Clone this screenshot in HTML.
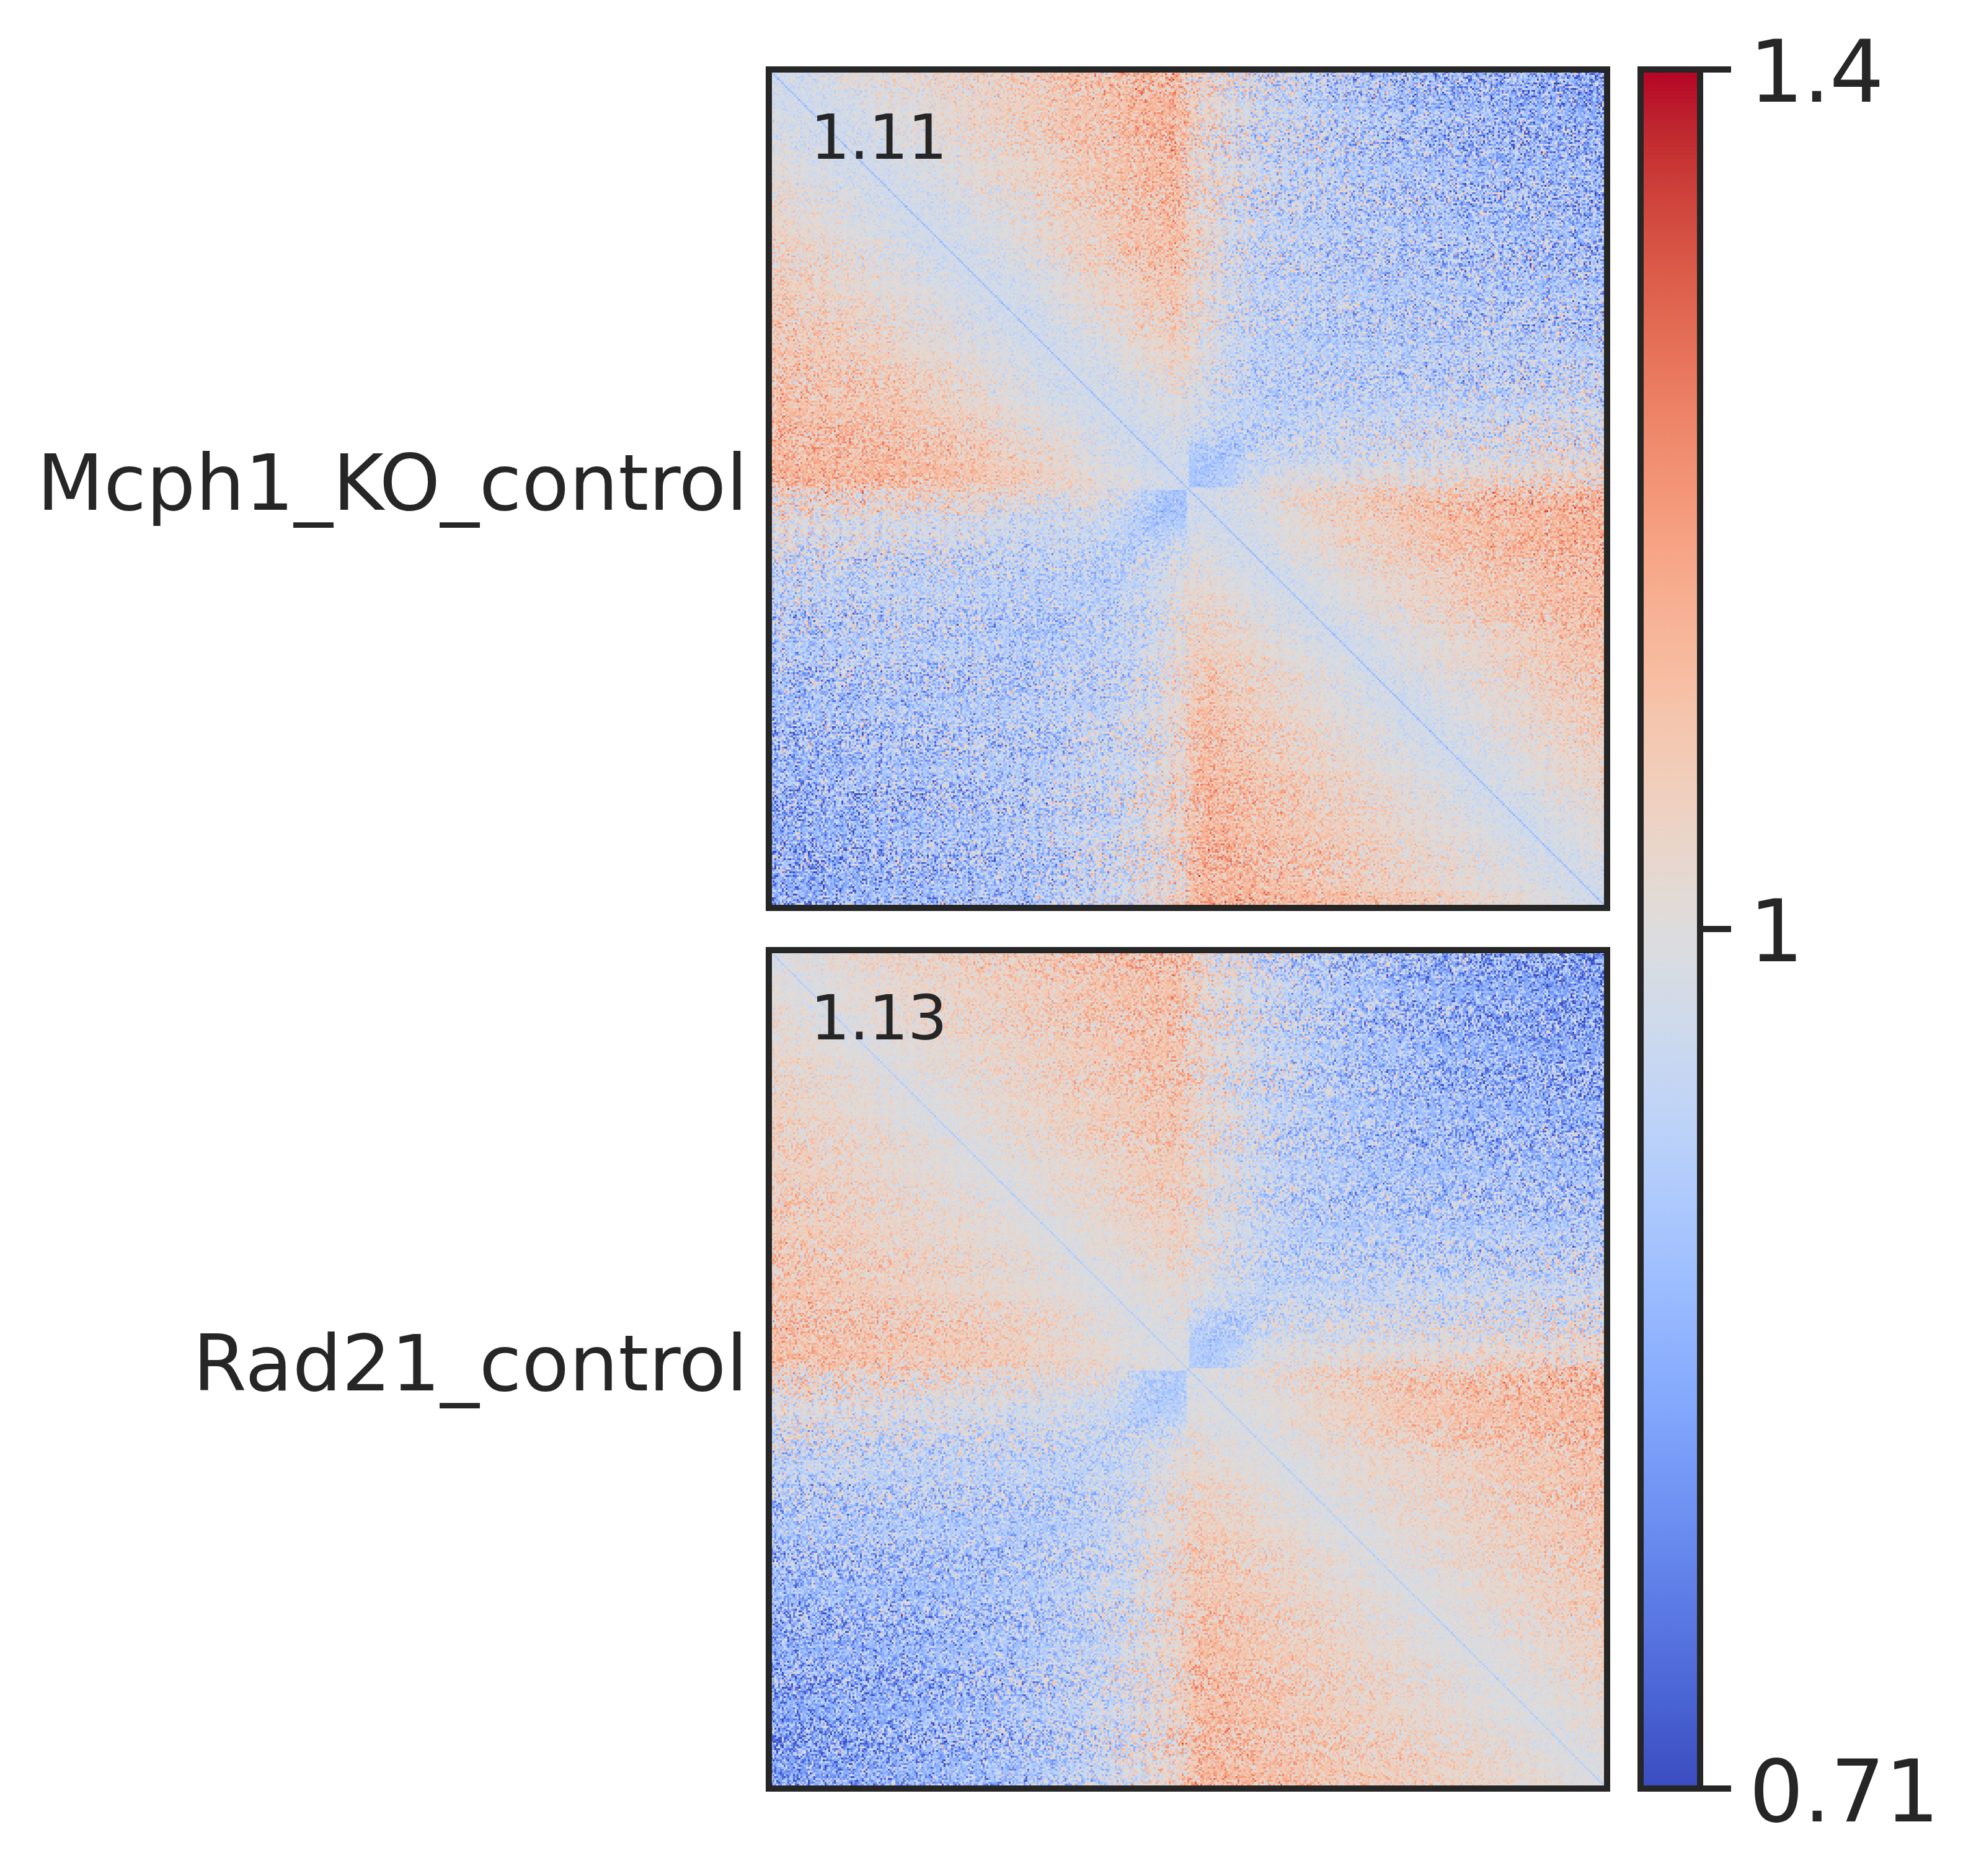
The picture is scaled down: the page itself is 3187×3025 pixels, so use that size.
<!DOCTYPE html>
<html lang="en"><head><meta charset="utf-8"><title>pileup</title>
<style>
html,body{margin:0;padding:0;background:#fff;overflow:hidden}
svg{display:block}
text{font-family:"DejaVu Sans","Liberation Sans",sans-serif;fill:#262626}
.tk{font-size:138.5px;letter-spacing:-1.2px}
.yl{font-size:125px;text-anchor:end}
.sc{font-size:100.6px;letter-spacing:-1px}
</style></head><body>
<svg width="3187" height="3025" viewBox="0 0 3187 3025">
<defs>
<linearGradient id="cb" x1="0" y1="0" x2="0" y2="1"><stop offset="0.00000" stop-color="#b40426"/><stop offset="0.03125" stop-color="#be242e"/><stop offset="0.06250" stop-color="#ca3b37"/><stop offset="0.09375" stop-color="#d44e41"/><stop offset="0.12500" stop-color="#dd5f4b"/><stop offset="0.15625" stop-color="#e46e56"/><stop offset="0.18750" stop-color="#eb7d62"/><stop offset="0.21875" stop-color="#f08b6e"/><stop offset="0.25000" stop-color="#f4987a"/><stop offset="0.28125" stop-color="#f6a586"/><stop offset="0.31250" stop-color="#f7b093"/><stop offset="0.34375" stop-color="#f7ba9f"/><stop offset="0.37500" stop-color="#f5c4ac"/><stop offset="0.40625" stop-color="#f1ccb8"/><stop offset="0.43750" stop-color="#ecd3c5"/><stop offset="0.46875" stop-color="#e5d8d1"/><stop offset="0.50000" stop-color="#dddcdc"/><stop offset="0.53125" stop-color="#d5dbe5"/><stop offset="0.56250" stop-color="#ccd9ed"/><stop offset="0.59375" stop-color="#c3d5f4"/><stop offset="0.62500" stop-color="#b9d0f9"/><stop offset="0.65625" stop-color="#aec9fc"/><stop offset="0.68750" stop-color="#a3c2fe"/><stop offset="0.71875" stop-color="#98b9ff"/><stop offset="0.75000" stop-color="#8db0fe"/><stop offset="0.78125" stop-color="#82a6fb"/><stop offset="0.81250" stop-color="#779af7"/><stop offset="0.84375" stop-color="#6c8ff1"/><stop offset="0.87500" stop-color="#6282ea"/><stop offset="0.90625" stop-color="#5875e1"/><stop offset="0.93750" stop-color="#4e68d8"/><stop offset="0.96875" stop-color="#445acc"/><stop offset="1.00000" stop-color="#3b4cc0"/></linearGradient>
<filter id="cm0" x="0" y="0" width="1" height="1" color-interpolation-filters="sRGB">
<feColorMatrix in="SourceGraphic" type="matrix" values="1 0 0 0 0 1 0 0 0 0 1 0 0 0 0 0 0 0 0 1" result="s"/>
<feColorMatrix in="SourceGraphic" type="matrix" values="0 1 0 0 0 0 1 0 0 0 0 1 0 0 0 0 0 0 0 1" result="a"/>
<feTurbulence type="fractalNoise" baseFrequency="0.713 0.677" numOctaves="2" seed="7" result="t"/>
<feColorMatrix in="t" type="matrix" values="1 0 0 0 0 1 0 0 0 0 1 0 0 0 0 0 0 0 0 1" result="t1"/>
<feFlood x="1" y="1" width="1" height="1" flood-color="#000" result="dot"/>
<feComposite in="dot" in2="dot" operator="over" x="0" y="0" width="3" height="3" result="cell"/>
<feTile in="cell" result="grid"/>
<feComposite in="t1" in2="grid" operator="in" result="pts"/>
<feMorphology in="pts" operator="dilate" radius="1" result="n"/>
<feComposite in="n" in2="a" operator="arithmetic" k1="0.6700" k2="0" k3="0" k4="0" result="na"/>
<feComposite in="s" in2="na" operator="arithmetic" k1="0" k2="1" k3="1" k4="0" result="v"/>
<feComponentTransfer in="v"><feFuncR type="table" tableValues="0.23 0.23 0.23 0.23 0.23 0.23 0.23 0.23 0.23 0.23 0.23 0.23 0.23 0.23 0.23 0.23 0.23 0.23 0.23 0.23 0.23 0.23 0.23 0.23 0.23 0.23 0.23 0.23 0.23 0.23 0.23 0.257 0.285 0.319 0.348 0.384 0.415 0.446 0.484 0.516 0.554 0.587 0.619 0.657 0.688 0.724 0.754 0.782 0.814 0.839 0.867 0.892 0.913 0.933 0.947 0.96 0.966 0.969 0.968 0.965 0.958 0.946 0.932 0.912 0.892 0.865 0.839 0.811 0.774 0.741 0.706 0.706 0.706 0.706 0.706 0.706 0.706 0.706 0.706 0.706 0.706 0.706 0.706 0.706 0.706 0.706 0.706 0.706 0.706 0.706 0.706 0.706 0.706 0.706 0.706 0.706 0.706 0.706 0.706 0.706 0.706"/><feFuncG type="table" tableValues="0.299 0.299 0.299 0.299 0.299 0.299 0.299 0.299 0.299 0.299 0.299 0.299 0.299 0.299 0.299 0.299 0.299 0.299 0.299 0.299 0.299 0.299 0.299 0.299 0.299 0.299 0.299 0.299 0.299 0.299 0.299 0.34 0.38 0.427 0.466 0.51 0.547 0.582 0.622 0.654 0.69 0.718 0.744 0.772 0.793 0.815 0.83 0.843 0.854 0.861 0.864 0.852 0.837 0.816 0.795 0.767 0.74 0.711 0.674 0.64 0.604 0.56 0.519 0.47 0.425 0.371 0.322 0.269 0.2 0.122 0.016 0.016 0.016 0.016 0.016 0.016 0.016 0.016 0.016 0.016 0.016 0.016 0.016 0.016 0.016 0.016 0.016 0.016 0.016 0.016 0.016 0.016 0.016 0.016 0.016 0.016 0.016 0.016 0.016 0.016 0.016"/><feFuncB type="table" tableValues="0.754 0.754 0.754 0.754 0.754 0.754 0.754 0.754 0.754 0.754 0.754 0.754 0.754 0.754 0.754 0.754 0.754 0.754 0.754 0.754 0.754 0.754 0.754 0.754 0.754 0.754 0.754 0.754 0.754 0.754 0.754 0.79 0.823 0.86 0.888 0.918 0.939 0.957 0.975 0.986 0.996 0.999 0.999 0.995 0.988 0.976 0.961 0.943 0.918 0.894 0.863 0.829 0.795 0.753 0.717 0.674 0.637 0.6 0.557 0.52 0.483 0.442 0.406 0.367 0.333 0.296 0.265 0.235 0.203 0.176 0.15 0.15 0.15 0.15 0.15 0.15 0.15 0.15 0.15 0.15 0.15 0.15 0.15 0.15 0.15 0.15 0.15 0.15 0.15 0.15 0.15 0.15 0.15 0.15 0.15 0.15 0.15 0.15 0.15 0.15 0.15"/></feComponentTransfer>
</filter>
<filter id="cm1" x="0" y="0" width="1" height="1" color-interpolation-filters="sRGB">
<feColorMatrix in="SourceGraphic" type="matrix" values="1 0 0 0 0 1 0 0 0 0 1 0 0 0 0 0 0 0 0 1" result="s"/>
<feColorMatrix in="SourceGraphic" type="matrix" values="0 1 0 0 0 0 1 0 0 0 0 1 0 0 0 0 0 0 0 1" result="a"/>
<feTurbulence type="fractalNoise" baseFrequency="0.713 0.677" numOctaves="2" seed="23" result="t"/>
<feColorMatrix in="t" type="matrix" values="1 0 0 0 0 1 0 0 0 0 1 0 0 0 0 0 0 0 0 1" result="t1"/>
<feFlood x="1" y="1" width="1" height="1" flood-color="#000" result="dot"/>
<feComposite in="dot" in2="dot" operator="over" x="0" y="0" width="3" height="3" result="cell"/>
<feTile in="cell" result="grid"/>
<feComposite in="t1" in2="grid" operator="in" result="pts"/>
<feMorphology in="pts" operator="dilate" radius="1" result="n"/>
<feComposite in="n" in2="a" operator="arithmetic" k1="0.6700" k2="0" k3="0" k4="0" result="na"/>
<feComposite in="s" in2="na" operator="arithmetic" k1="0" k2="1" k3="1" k4="0" result="v"/>
<feComponentTransfer in="v"><feFuncR type="table" tableValues="0.23 0.23 0.23 0.23 0.23 0.23 0.23 0.23 0.23 0.23 0.23 0.23 0.23 0.23 0.23 0.23 0.23 0.23 0.23 0.23 0.23 0.23 0.23 0.23 0.23 0.23 0.23 0.23 0.23 0.23 0.23 0.257 0.285 0.319 0.348 0.384 0.415 0.446 0.484 0.516 0.554 0.587 0.619 0.657 0.688 0.724 0.754 0.782 0.814 0.839 0.867 0.892 0.913 0.933 0.947 0.96 0.966 0.969 0.968 0.965 0.958 0.946 0.932 0.912 0.892 0.865 0.839 0.811 0.774 0.741 0.706 0.706 0.706 0.706 0.706 0.706 0.706 0.706 0.706 0.706 0.706 0.706 0.706 0.706 0.706 0.706 0.706 0.706 0.706 0.706 0.706 0.706 0.706 0.706 0.706 0.706 0.706 0.706 0.706 0.706 0.706"/><feFuncG type="table" tableValues="0.299 0.299 0.299 0.299 0.299 0.299 0.299 0.299 0.299 0.299 0.299 0.299 0.299 0.299 0.299 0.299 0.299 0.299 0.299 0.299 0.299 0.299 0.299 0.299 0.299 0.299 0.299 0.299 0.299 0.299 0.299 0.34 0.38 0.427 0.466 0.51 0.547 0.582 0.622 0.654 0.69 0.718 0.744 0.772 0.793 0.815 0.83 0.843 0.854 0.861 0.864 0.852 0.837 0.816 0.795 0.767 0.74 0.711 0.674 0.64 0.604 0.56 0.519 0.47 0.425 0.371 0.322 0.269 0.2 0.122 0.016 0.016 0.016 0.016 0.016 0.016 0.016 0.016 0.016 0.016 0.016 0.016 0.016 0.016 0.016 0.016 0.016 0.016 0.016 0.016 0.016 0.016 0.016 0.016 0.016 0.016 0.016 0.016 0.016 0.016 0.016"/><feFuncB type="table" tableValues="0.754 0.754 0.754 0.754 0.754 0.754 0.754 0.754 0.754 0.754 0.754 0.754 0.754 0.754 0.754 0.754 0.754 0.754 0.754 0.754 0.754 0.754 0.754 0.754 0.754 0.754 0.754 0.754 0.754 0.754 0.754 0.79 0.823 0.86 0.888 0.918 0.939 0.957 0.975 0.986 0.996 0.999 0.999 0.995 0.988 0.976 0.961 0.943 0.918 0.894 0.863 0.829 0.795 0.753 0.717 0.674 0.637 0.6 0.557 0.52 0.483 0.442 0.406 0.367 0.333 0.296 0.265 0.235 0.203 0.176 0.15 0.15 0.15 0.15 0.15 0.15 0.15 0.15 0.15 0.15 0.15 0.15 0.15 0.15 0.15 0.15 0.15 0.15 0.15 0.15 0.15 0.15 0.15 0.15 0.15 0.15 0.15 0.15 0.15 0.15 0.15"/></feComponentTransfer>
</filter>
<linearGradient id="g0_0" gradientUnits="userSpaceOnUse" x1="0" x2="1352"><stop offset=".0012" stop-color="#6d2800"/><stop offset=".0087" stop-color="#702100"/><stop offset=".0112" stop-color="#721a00"/><stop offset=".0162" stop-color="#6f2400"/><stop offset=".0312" stop-color="#6b2e00"/><stop offset=".0536" stop-color="#693700"/><stop offset=".0860" stop-color="#684100"/><stop offset=".1035" stop-color="#684500"/><stop offset=".4751" stop-color="#677b00"/><stop offset=".4825" stop-color="#667d00"/><stop offset=".4900" stop-color="#648000"/><stop offset=".4975" stop-color="#5f8600"/><stop offset=".5050" stop-color="#578e00"/><stop offset=".5150" stop-color="#549000"/><stop offset=".5773" stop-color="#469f00"/><stop offset=".5923" stop-color="#43a200"/><stop offset=".6372" stop-color="#3ca900"/><stop offset=".6945" stop-color="#35b100"/><stop offset=".7693" stop-color="#2eba00"/><stop offset=".9988" stop-color="#1fd100"/></linearGradient>
<linearGradient id="g0_1" gradientUnits="userSpaceOnUse" x1="0" x2="1352"><stop offset=".0012" stop-color="#6a3300"/><stop offset=".0262" stop-color="#6e2600"/><stop offset=".0312" stop-color="#702100"/><stop offset=".0337" stop-color="#721a00"/><stop offset=".0387" stop-color="#6f2400"/><stop offset=".0536" stop-color="#6b2e00"/><stop offset=".0761" stop-color="#693700"/><stop offset=".1085" stop-color="#684100"/><stop offset=".1234" stop-color="#684400"/><stop offset=".4751" stop-color="#687900"/><stop offset=".4850" stop-color="#677c00"/><stop offset=".4925" stop-color="#638000"/><stop offset=".4975" stop-color="#608300"/><stop offset=".5050" stop-color="#588b00"/><stop offset=".5249" stop-color="#539000"/><stop offset=".5748" stop-color="#479c00"/><stop offset=".5923" stop-color="#449f00"/><stop offset=".6372" stop-color="#3da700"/><stop offset=".6970" stop-color="#36af00"/><stop offset=".7718" stop-color="#2fb800"/><stop offset=".9988" stop-color="#21cf00"/></linearGradient>
<linearGradient id="g0_2" gradientUnits="userSpaceOnUse" x1="0" x2="1352"><stop offset=".0012" stop-color="#693b00"/><stop offset=".0411" stop-color="#6c2b00"/><stop offset=".0511" stop-color="#6f2400"/><stop offset=".0561" stop-color="#721a00"/><stop offset=".0611" stop-color="#6f2400"/><stop offset=".0761" stop-color="#6b2e00"/><stop offset=".1010" stop-color="#693800"/><stop offset=".1309" stop-color="#684100"/><stop offset=".1409" stop-color="#684300"/><stop offset=".4751" stop-color="#697700"/><stop offset=".4850" stop-color="#677900"/><stop offset=".4925" stop-color="#647d00"/><stop offset=".4975" stop-color="#618100"/><stop offset=".5050" stop-color="#598800"/><stop offset=".5299" stop-color="#528f00"/><stop offset=".5773" stop-color="#479a00"/><stop offset=".5898" stop-color="#459d00"/><stop offset=".6347" stop-color="#3ea400"/><stop offset=".6945" stop-color="#37ad00"/><stop offset=".7693" stop-color="#31b600"/><stop offset=".9988" stop-color="#22cd00"/></linearGradient>
<linearGradient id="g0_3" gradientUnits="userSpaceOnUse" x1="0" x2="1352"><stop offset=".0012" stop-color="#684100"/><stop offset=".0561" stop-color="#6b2f00"/><stop offset=".0736" stop-color="#6f2400"/><stop offset=".0786" stop-color="#721a00"/><stop offset=".0835" stop-color="#6f2400"/><stop offset=".0985" stop-color="#6b2e00"/><stop offset=".1234" stop-color="#693800"/><stop offset=".1534" stop-color="#684100"/><stop offset=".4751" stop-color="#6a7400"/><stop offset=".4825" stop-color="#697600"/><stop offset=".4900" stop-color="#667900"/><stop offset=".4975" stop-color="#617e00"/><stop offset=".5050" stop-color="#5a8600"/><stop offset=".5200" stop-color="#558a00"/><stop offset=".5673" stop-color="#499600"/><stop offset=".5898" stop-color="#459a00"/><stop offset=".6147" stop-color="#419f00"/><stop offset=".6796" stop-color="#3aa800"/><stop offset=".7569" stop-color="#33b200"/><stop offset=".8840" stop-color="#2ac000"/><stop offset=".9988" stop-color="#23cb00"/></linearGradient>
<linearGradient id="g0_4" gradientUnits="userSpaceOnUse" x1="0" x2="1352"><stop offset=".0012" stop-color="#684700"/><stop offset=".0436" stop-color="#693c00"/><stop offset=".0736" stop-color="#6b3100"/><stop offset=".0935" stop-color="#6e2600"/><stop offset=".0985" stop-color="#702100"/><stop offset=".1010" stop-color="#721a00"/><stop offset=".1060" stop-color="#6f2400"/><stop offset=".1234" stop-color="#6b2f00"/><stop offset=".1758" stop-color="#684100"/><stop offset=".4776" stop-color="#6a7200"/><stop offset=".4850" stop-color="#697400"/><stop offset=".4925" stop-color="#667800"/><stop offset=".4975" stop-color="#627c00"/><stop offset=".5050" stop-color="#5b8300"/><stop offset=".5224" stop-color="#558800"/><stop offset=".5673" stop-color="#4a9300"/><stop offset=".5873" stop-color="#469700"/><stop offset=".6147" stop-color="#429c00"/><stop offset=".6870" stop-color="#3aa700"/><stop offset=".7643" stop-color="#33b100"/><stop offset=".8890" stop-color="#2bbe00"/><stop offset=".9988" stop-color="#25c900"/></linearGradient>
<linearGradient id="g0_5" gradientUnits="userSpaceOnUse" x1="0" x2="1352"><stop offset=".0012" stop-color="#684b00"/><stop offset=".0536" stop-color="#683f00"/><stop offset=".0885" stop-color="#6a3400"/><stop offset=".1135" stop-color="#6d2800"/><stop offset=".1209" stop-color="#702100"/><stop offset=".1234" stop-color="#721a00"/><stop offset=".1284" stop-color="#6f2400"/><stop offset=".1434" stop-color="#6b2e00"/><stop offset=".1958" stop-color="#684000"/><stop offset=".4776" stop-color="#6b6f00"/><stop offset=".4850" stop-color="#697100"/><stop offset=".4925" stop-color="#667500"/><stop offset=".4975" stop-color="#637900"/><stop offset=".5050" stop-color="#5b8000"/><stop offset=".5274" stop-color="#558700"/><stop offset=".5698" stop-color="#4a9100"/><stop offset=".5873" stop-color="#479500"/><stop offset=".6147" stop-color="#439a00"/><stop offset=".6970" stop-color="#3aa600"/><stop offset=".7743" stop-color="#34af00"/><stop offset=".9988" stop-color="#26c600"/></linearGradient>
<linearGradient id="g0_6" gradientUnits="userSpaceOnUse" x1="0" x2="1352"><stop offset=".0012" stop-color="#685000"/><stop offset=".0661" stop-color="#684200"/><stop offset=".1060" stop-color="#6a3600"/><stop offset=".1359" stop-color="#6d2800"/><stop offset=".1434" stop-color="#702100"/><stop offset=".1459" stop-color="#721a00"/><stop offset=".1509" stop-color="#6f2400"/><stop offset=".1658" stop-color="#6c2e00"/><stop offset=".2182" stop-color="#684000"/><stop offset=".4776" stop-color="#6b6d00"/><stop offset=".4850" stop-color="#6a6f00"/><stop offset=".4925" stop-color="#677200"/><stop offset=".4975" stop-color="#647600"/><stop offset=".5050" stop-color="#5c7d00"/><stop offset=".5299" stop-color="#558400"/><stop offset=".5698" stop-color="#4b8f00"/><stop offset=".5848" stop-color="#489200"/><stop offset=".6147" stop-color="#439700"/><stop offset=".6621" stop-color="#3e9f00"/><stop offset=".7893" stop-color="#34af00"/><stop offset=".9988" stop-color="#28c400"/></linearGradient>
<linearGradient id="g0_7" gradientUnits="userSpaceOnUse" x1="0" x2="1352"><stop offset=".0012" stop-color="#685400"/><stop offset=".0786" stop-color="#684400"/><stop offset=".1234" stop-color="#693800"/><stop offset=".1559" stop-color="#6d2900"/><stop offset=".1658" stop-color="#702100"/><stop offset=".1683" stop-color="#721a00"/><stop offset=".1733" stop-color="#6f2400"/><stop offset=".1883" stop-color="#6c2e00"/><stop offset=".2107" stop-color="#693700"/><stop offset=".2406" stop-color="#684000"/><stop offset=".2955" stop-color="#684c00"/><stop offset=".4776" stop-color="#6c6a00"/><stop offset=".4850" stop-color="#6a6c00"/><stop offset=".4925" stop-color="#686f00"/><stop offset=".4975" stop-color="#647300"/><stop offset=".5050" stop-color="#5d7a00"/><stop offset=".5349" stop-color="#548300"/><stop offset=".5723" stop-color="#4b8c00"/><stop offset=".5823" stop-color="#498f00"/><stop offset=".6147" stop-color="#449500"/><stop offset=".6671" stop-color="#3e9d00"/><stop offset=".8092" stop-color="#34ae00"/><stop offset=".9988" stop-color="#29c200"/></linearGradient>
<linearGradient id="g0_8" gradientUnits="userSpaceOnUse" x1="0" x2="1352"><stop offset=".0012" stop-color="#685800"/><stop offset=".0960" stop-color="#684500"/><stop offset=".1409" stop-color="#693900"/><stop offset=".1758" stop-color="#6c2b00"/><stop offset=".1858" stop-color="#6f2400"/><stop offset=".1908" stop-color="#721a00"/><stop offset=".1958" stop-color="#6f2400"/><stop offset=".2107" stop-color="#6c2e00"/><stop offset=".2606" stop-color="#683f00"/><stop offset=".3180" stop-color="#684c00"/><stop offset=".4776" stop-color="#6c6700"/><stop offset=".4850" stop-color="#6b6900"/><stop offset=".4925" stop-color="#686c00"/><stop offset=".4975" stop-color="#657000"/><stop offset=".5050" stop-color="#5e7700"/><stop offset=".5374" stop-color="#548100"/><stop offset=".5748" stop-color="#4b8a00"/><stop offset=".5823" stop-color="#498c00"/><stop offset=".6147" stop-color="#449200"/><stop offset=".6721" stop-color="#3f9b00"/><stop offset=".8042" stop-color="#36ab00"/><stop offset=".9988" stop-color="#2bbf00"/></linearGradient>
<linearGradient id="g0_9" gradientUnits="userSpaceOnUse" x1="0" x2="1352"><stop offset=".0012" stop-color="#685b00"/><stop offset=".1534" stop-color="#693c00"/><stop offset=".1908" stop-color="#6b2e00"/><stop offset=".2132" stop-color="#701f00"/><stop offset=".2232" stop-color="#6d2900"/><stop offset=".2382" stop-color="#6b3100"/><stop offset=".2855" stop-color="#684000"/><stop offset=".3404" stop-color="#694d00"/><stop offset=".4776" stop-color="#6c6400"/><stop offset=".4850" stop-color="#6b6600"/><stop offset=".4925" stop-color="#696a00"/><stop offset=".4975" stop-color="#656d00"/><stop offset=".5050" stop-color="#5f7400"/><stop offset=".5399" stop-color="#537f00"/><stop offset=".5748" stop-color="#4b8700"/><stop offset=".5848" stop-color="#498a00"/><stop offset=".6147" stop-color="#458f00"/><stop offset=".7020" stop-color="#3d9c00"/><stop offset=".9988" stop-color="#2cbd00"/></linearGradient>
<linearGradient id="g0_10" gradientUnits="userSpaceOnUse" x1="0" x2="1352"><stop offset=".0012" stop-color="#685e00"/><stop offset=".1733" stop-color="#693c00"/><stop offset=".2107" stop-color="#6b2e00"/><stop offset=".2232" stop-color="#6e2700"/><stop offset=".2307" stop-color="#701f00"/><stop offset=".2431" stop-color="#6d2900"/><stop offset=".2581" stop-color="#6b3100"/><stop offset=".3030" stop-color="#684000"/><stop offset=".3529" stop-color="#694b00"/><stop offset=".4626" stop-color="#6c5e00"/><stop offset=".4800" stop-color="#6c6200"/><stop offset=".4925" stop-color="#696700"/><stop offset=".4975" stop-color="#666a00"/><stop offset=".5050" stop-color="#5f7100"/><stop offset=".5399" stop-color="#547c00"/><stop offset=".5748" stop-color="#4c8500"/><stop offset=".5848" stop-color="#4a8700"/><stop offset=".6147" stop-color="#468d00"/><stop offset=".7070" stop-color="#3e9a00"/><stop offset=".9988" stop-color="#2ebb00"/></linearGradient>
<linearGradient id="g0_11" gradientUnits="userSpaceOnUse" x1="0" x2="1352"><stop offset=".0012" stop-color="#686100"/><stop offset=".1908" stop-color="#693d00"/><stop offset=".2282" stop-color="#6b2f00"/><stop offset=".2531" stop-color="#701f00"/><stop offset=".2606" stop-color="#6e2700"/><stop offset=".2756" stop-color="#6b2f00"/><stop offset=".3180" stop-color="#693e00"/><stop offset=".3678" stop-color="#694a00"/><stop offset=".4800" stop-color="#6c5f00"/><stop offset=".4925" stop-color="#696400"/><stop offset=".4975" stop-color="#666700"/><stop offset=".5050" stop-color="#606e00"/><stop offset=".5424" stop-color="#547a00"/><stop offset=".5773" stop-color="#4c8300"/><stop offset=".5823" stop-color="#4b8400"/><stop offset=".6172" stop-color="#468a00"/><stop offset=".7170" stop-color="#3e9900"/><stop offset=".9988" stop-color="#30b900"/></linearGradient>
<linearGradient id="g0_12" gradientUnits="userSpaceOnUse" x1="0" x2="1352"><stop offset=".0012" stop-color="#686400"/><stop offset=".2107" stop-color="#693d00"/><stop offset=".2506" stop-color="#6b2e00"/><stop offset=".2631" stop-color="#6e2700"/><stop offset=".2706" stop-color="#701f00"/><stop offset=".2955" stop-color="#6b2f00"/><stop offset=".3354" stop-color="#693e00"/><stop offset=".3828" stop-color="#694900"/><stop offset=".4800" stop-color="#6c5c00"/><stop offset=".4925" stop-color="#696100"/><stop offset=".4975" stop-color="#666400"/><stop offset=".5050" stop-color="#606a00"/><stop offset=".5449" stop-color="#537800"/><stop offset=".5773" stop-color="#4c8000"/><stop offset=".5823" stop-color="#4b8100"/><stop offset=".6172" stop-color="#478800"/><stop offset=".7195" stop-color="#3f9700"/><stop offset=".8242" stop-color="#3aa400"/><stop offset=".9988" stop-color="#31b600"/></linearGradient>
<linearGradient id="g0_13" gradientUnits="userSpaceOnUse" x1="0" x2="1352"><stop offset=".0012" stop-color="#686600"/><stop offset=".2307" stop-color="#693d00"/><stop offset=".2706" stop-color="#6b2e00"/><stop offset=".2830" stop-color="#6e2700"/><stop offset=".2905" stop-color="#701f00"/><stop offset=".3130" stop-color="#6b2e00"/><stop offset=".3504" stop-color="#693c00"/><stop offset=".3928" stop-color="#694700"/><stop offset=".4825" stop-color="#6b5900"/><stop offset=".4950" stop-color="#685f00"/><stop offset=".5050" stop-color="#616700"/><stop offset=".5324" stop-color="#587100"/><stop offset=".5549" stop-color="#517800"/><stop offset=".5798" stop-color="#4d7e00"/><stop offset=".5948" stop-color="#4a8100"/><stop offset=".6471" stop-color="#458a00"/><stop offset=".7095" stop-color="#409300"/><stop offset=".8416" stop-color="#3ba300"/><stop offset=".9988" stop-color="#33b400"/></linearGradient>
<linearGradient id="g0_14" gradientUnits="userSpaceOnUse" x1="0" x2="1352"><stop offset=".0012" stop-color="#686900"/><stop offset=".0860" stop-color="#695d00"/><stop offset=".2531" stop-color="#693c00"/><stop offset=".2955" stop-color="#6c2b00"/><stop offset=".3055" stop-color="#6f2400"/><stop offset=".3105" stop-color="#721a00"/><stop offset=".3155" stop-color="#6f2400"/><stop offset=".3254" stop-color="#6c2b00"/><stop offset=".3603" stop-color="#693900"/><stop offset=".3978" stop-color="#694400"/><stop offset=".4701" stop-color="#6b5300"/><stop offset=".4850" stop-color="#6b5700"/><stop offset=".4950" stop-color="#685c00"/><stop offset=".5050" stop-color="#616400"/><stop offset=".5299" stop-color="#596d00"/><stop offset=".5524" stop-color="#537400"/><stop offset=".5748" stop-color="#4e7a00"/><stop offset=".5898" stop-color="#4c7d00"/><stop offset=".6421" stop-color="#468600"/><stop offset=".6945" stop-color="#428e00"/><stop offset=".8616" stop-color="#3ca300"/><stop offset=".9988" stop-color="#35b200"/></linearGradient>
<linearGradient id="g0_15" gradientUnits="userSpaceOnUse" x1="0" x2="1352"><stop offset=".0012" stop-color="#676b00"/><stop offset=".0985" stop-color="#695e00"/><stop offset=".2456" stop-color="#684200"/><stop offset=".2706" stop-color="#693c00"/><stop offset=".3130" stop-color="#6c2b00"/><stop offset=".3229" stop-color="#6f2400"/><stop offset=".3279" stop-color="#721a00"/><stop offset=".3304" stop-color="#702100"/><stop offset=".3404" stop-color="#6d2900"/><stop offset=".3728" stop-color="#693800"/><stop offset=".4077" stop-color="#694200"/><stop offset=".4850" stop-color="#6a5400"/><stop offset=".4950" stop-color="#685900"/><stop offset=".5050" stop-color="#626000"/><stop offset=".5200" stop-color="#5c6700"/><stop offset=".5524" stop-color="#537100"/><stop offset=".5748" stop-color="#4f7700"/><stop offset=".5898" stop-color="#4c7a00"/><stop offset=".6421" stop-color="#478300"/><stop offset=".6895" stop-color="#438b00"/><stop offset=".8791" stop-color="#3da300"/><stop offset=".9988" stop-color="#37af00"/></linearGradient>
<linearGradient id="g0_16" gradientUnits="userSpaceOnUse" x1="0" x2="1352"><stop offset=".0012" stop-color="#676d00"/><stop offset=".1110" stop-color="#695f00"/><stop offset=".2581" stop-color="#684400"/><stop offset=".2880" stop-color="#693c00"/><stop offset=".3304" stop-color="#6c2b00"/><stop offset=".3404" stop-color="#6f2400"/><stop offset=".3454" stop-color="#721a00"/><stop offset=".3479" stop-color="#702100"/><stop offset=".3554" stop-color="#6d2800"/><stop offset=".3853" stop-color="#6a3600"/><stop offset=".4152" stop-color="#693f00"/><stop offset=".4751" stop-color="#6a4d00"/><stop offset=".4875" stop-color="#6a5100"/><stop offset=".4950" stop-color="#685500"/><stop offset=".5050" stop-color="#625d00"/><stop offset=".5224" stop-color="#5c6500"/><stop offset=".5524" stop-color="#536e00"/><stop offset=".5748" stop-color="#4f7400"/><stop offset=".5898" stop-color="#4d7700"/><stop offset=".6421" stop-color="#478100"/><stop offset=".7195" stop-color="#438c00"/><stop offset=".8940" stop-color="#3ea200"/><stop offset=".9988" stop-color="#39ad00"/></linearGradient>
<linearGradient id="g0_17" gradientUnits="userSpaceOnUse" x1="0" x2="1352"><stop offset=".0012" stop-color="#676f00"/><stop offset=".1259" stop-color="#6a5f00"/><stop offset=".2731" stop-color="#694400"/><stop offset=".3055" stop-color="#693c00"/><stop offset=".3479" stop-color="#6c2b00"/><stop offset=".3579" stop-color="#6f2400"/><stop offset=".3628" stop-color="#721a00"/><stop offset=".3653" stop-color="#702100"/><stop offset=".3728" stop-color="#6d2800"/><stop offset=".3978" stop-color="#6a3400"/><stop offset=".4252" stop-color="#693d00"/><stop offset=".4875" stop-color="#694e00"/><stop offset=".4950" stop-color="#675200"/><stop offset=".5050" stop-color="#625900"/><stop offset=".5249" stop-color="#5b6200"/><stop offset=".5499" stop-color="#556b00"/><stop offset=".5748" stop-color="#507100"/><stop offset=".5848" stop-color="#4e7300"/><stop offset=".6322" stop-color="#497c00"/><stop offset=".7344" stop-color="#448c00"/><stop offset=".9988" stop-color="#3baa00"/></linearGradient>
<linearGradient id="g0_18" gradientUnits="userSpaceOnUse" x1="0" x2="1352"><stop offset=".0012" stop-color="#677100"/><stop offset=".1384" stop-color="#6a6000"/><stop offset=".3180" stop-color="#693d00"/><stop offset=".3579" stop-color="#6b2e00"/><stop offset=".3703" stop-color="#6e2700"/><stop offset=".3778" stop-color="#701f00"/><stop offset=".3928" stop-color="#6d2a00"/><stop offset=".4127" stop-color="#6a3400"/><stop offset=".4900" stop-color="#684c00"/><stop offset=".5249" stop-color="#5c5f00"/><stop offset=".5474" stop-color="#566700"/><stop offset=".5798" stop-color="#506f00"/><stop offset=".6197" stop-color="#4b7700"/><stop offset=".7369" stop-color="#468900"/><stop offset=".9988" stop-color="#3ea800"/></linearGradient>
<linearGradient id="g0_19" gradientUnits="userSpaceOnUse" x1="0" x2="1352"><stop offset=".0012" stop-color="#677300"/><stop offset=".1509" stop-color="#6a6000"/><stop offset=".3329" stop-color="#693d00"/><stop offset=".3728" stop-color="#6b2e00"/><stop offset=".3853" stop-color="#6e2700"/><stop offset=".3928" stop-color="#701f00"/><stop offset=".4077" stop-color="#6d2a00"/><stop offset=".4252" stop-color="#6a3300"/><stop offset=".4900" stop-color="#684800"/><stop offset=".5249" stop-color="#5c5c00"/><stop offset=".5449" stop-color="#576300"/><stop offset=".5723" stop-color="#526a00"/><stop offset=".5823" stop-color="#506d00"/><stop offset=".6072" stop-color="#4d7200"/><stop offset=".7344" stop-color="#488600"/><stop offset=".9988" stop-color="#40a500"/></linearGradient>
<linearGradient id="g0_20" gradientUnits="userSpaceOnUse" x1="0" x2="1352"><stop offset=".0012" stop-color="#677500"/><stop offset=".1608" stop-color="#6b6000"/><stop offset=".3055" stop-color="#694700"/><stop offset=".3504" stop-color="#693c00"/><stop offset=".3903" stop-color="#6c2c00"/><stop offset=".4027" stop-color="#6f2400"/><stop offset=".4077" stop-color="#721a00"/><stop offset=".4127" stop-color="#6f2400"/><stop offset=".4277" stop-color="#6c2e00"/><stop offset=".4925" stop-color="#674600"/><stop offset=".5224" stop-color="#5d5800"/><stop offset=".5399" stop-color="#585f00"/><stop offset=".5648" stop-color="#536600"/><stop offset=".5773" stop-color="#516900"/><stop offset=".5923" stop-color="#506c00"/><stop offset=".7294" stop-color="#4a8300"/><stop offset=".9988" stop-color="#43a300"/></linearGradient>
<linearGradient id="g0_21" gradientUnits="userSpaceOnUse" x1="0" x2="1352"><stop offset=".0012" stop-color="#677600"/><stop offset=".1683" stop-color="#6b6100"/><stop offset=".3603" stop-color="#693c00"/><stop offset=".3978" stop-color="#6b2e00"/><stop offset=".4102" stop-color="#6e2700"/><stop offset=".4177" stop-color="#701f00"/><stop offset=".4426" stop-color="#6b2f00"/><stop offset=".4925" stop-color="#674300"/><stop offset=".5349" stop-color="#595a00"/><stop offset=".5798" stop-color="#516700"/><stop offset=".7269" stop-color="#4c8100"/><stop offset=".9988" stop-color="#45a100"/></linearGradient>
<linearGradient id="g0_22" gradientUnits="userSpaceOnUse" x1="0" x2="1352"><stop offset=".0012" stop-color="#677700"/><stop offset=".1758" stop-color="#6b6100"/><stop offset=".3204" stop-color="#694800"/><stop offset=".3728" stop-color="#693b00"/><stop offset=".4127" stop-color="#6c2b00"/><stop offset=".4227" stop-color="#6f2400"/><stop offset=".4277" stop-color="#721a00"/><stop offset=".4327" stop-color="#6f2400"/><stop offset=".4426" stop-color="#6c2b00"/><stop offset=".4950" stop-color="#674200"/><stop offset=".5000" stop-color="#654500"/><stop offset=".5025" stop-color="#634700"/><stop offset=".5274" stop-color="#5b5500"/><stop offset=".5698" stop-color="#526300"/><stop offset=".5723" stop-color="#526300"/><stop offset=".7394" stop-color="#4d8000"/><stop offset=".9988" stop-color="#479f00"/></linearGradient>
<linearGradient id="g0_23" gradientUnits="userSpaceOnUse" x1="0" x2="1352"><stop offset=".0012" stop-color="#677800"/><stop offset=".1808" stop-color="#6b6200"/><stop offset=".3254" stop-color="#694900"/><stop offset=".3803" stop-color="#693b00"/><stop offset=".4202" stop-color="#6c2b00"/><stop offset=".4302" stop-color="#6f2400"/><stop offset=".4352" stop-color="#721a00"/><stop offset=".4377" stop-color="#6f2100"/><stop offset=".4476" stop-color="#6d2900"/><stop offset=".4975" stop-color="#664100"/><stop offset=".5000" stop-color="#664300"/><stop offset=".5025" stop-color="#624500"/><stop offset=".5224" stop-color="#5b5100"/><stop offset=".5623" stop-color="#535f00"/><stop offset=".5673" stop-color="#536000"/><stop offset=".5923" stop-color="#536600"/><stop offset=".7170" stop-color="#4f7b00"/><stop offset=".9988" stop-color="#489d00"/></linearGradient>
<linearGradient id="g0_24" gradientUnits="userSpaceOnUse" x1="0" x2="1352"><stop offset=".0012" stop-color="#677800"/><stop offset=".1883" stop-color="#6c6200"/><stop offset=".3329" stop-color="#6a4900"/><stop offset=".3878" stop-color="#693b00"/><stop offset=".4277" stop-color="#6c2b00"/><stop offset=".4377" stop-color="#6f2400"/><stop offset=".4426" stop-color="#721a00"/><stop offset=".4451" stop-color="#6f2100"/><stop offset=".4551" stop-color="#6d2900"/><stop offset=".5000" stop-color="#664100"/><stop offset=".5025" stop-color="#614300"/><stop offset=".5274" stop-color="#595200"/><stop offset=".5549" stop-color="#535b00"/><stop offset=".5698" stop-color="#545f00"/><stop offset=".5923" stop-color="#556400"/><stop offset=".7095" stop-color="#517900"/><stop offset=".9988" stop-color="#4a9c00"/></linearGradient>
<linearGradient id="g0_25" gradientUnits="userSpaceOnUse" x1="0" x2="1352"><stop offset=".0012" stop-color="#677900"/><stop offset=".1933" stop-color="#6c6200"/><stop offset=".3379" stop-color="#6a4900"/><stop offset=".3978" stop-color="#693a00"/><stop offset=".4352" stop-color="#6c2b00"/><stop offset=".4451" stop-color="#6f2400"/><stop offset=".4501" stop-color="#721a00"/><stop offset=".4526" stop-color="#6f2100"/><stop offset=".4601" stop-color="#6d2800"/><stop offset=".5000" stop-color="#663e00"/><stop offset=".5025" stop-color="#5f4000"/><stop offset=".5249" stop-color="#584e00"/><stop offset=".5474" stop-color="#535700"/><stop offset=".5748" stop-color="#565e00"/><stop offset=".5923" stop-color="#566200"/><stop offset=".9988" stop-color="#4c9a00"/></linearGradient>
<linearGradient id="g0_26" gradientUnits="userSpaceOnUse" x1="0" x2="1352"><stop offset=".0012" stop-color="#677a00"/><stop offset=".2007" stop-color="#6c6200"/><stop offset=".3429" stop-color="#6a4a00"/><stop offset=".4052" stop-color="#693a00"/><stop offset=".4426" stop-color="#6c2b00"/><stop offset=".4526" stop-color="#6e2400"/><stop offset=".4576" stop-color="#721a00"/><stop offset=".4601" stop-color="#6f2100"/><stop offset=".4651" stop-color="#6e2600"/><stop offset=".5000" stop-color="#673c00"/><stop offset=".5025" stop-color="#5e3e00"/><stop offset=".5249" stop-color="#574c00"/><stop offset=".5424" stop-color="#535300"/><stop offset=".5698" stop-color="#575a00"/><stop offset=".5773" stop-color="#585c00"/><stop offset=".5923" stop-color="#585f00"/><stop offset=".9988" stop-color="#4d9800"/></linearGradient>
<linearGradient id="g0_27" gradientUnits="userSpaceOnUse" x1="0" x2="1352"><stop offset=".0012" stop-color="#677b00"/><stop offset=".1259" stop-color="#6b6d00"/><stop offset=".2082" stop-color="#6c6200"/><stop offset=".3379" stop-color="#6a4d00"/><stop offset=".4127" stop-color="#693b00"/><stop offset=".4451" stop-color="#6b2e00"/><stop offset=".4576" stop-color="#6d2700"/><stop offset=".4651" stop-color="#701f00"/><stop offset=".5000" stop-color="#683800"/><stop offset=".5025" stop-color="#5d3a00"/><stop offset=".5224" stop-color="#574800"/><stop offset=".5349" stop-color="#544e00"/><stop offset=".5698" stop-color="#595700"/><stop offset=".5873" stop-color="#5a5b00"/><stop offset=".5923" stop-color="#5a5c00"/><stop offset=".9988" stop-color="#509600"/></linearGradient>
<linearGradient id="g0_28" gradientUnits="userSpaceOnUse" x1="0" x2="1352"><stop offset=".0012" stop-color="#677d00"/><stop offset=".1309" stop-color="#6b6e00"/><stop offset=".2157" stop-color="#6c6300"/><stop offset=".3554" stop-color="#6a4b00"/><stop offset=".4227" stop-color="#693b00"/><stop offset=".4426" stop-color="#6a3400"/><stop offset=".4601" stop-color="#6c2b00"/><stop offset=".4701" stop-color="#6e2400"/><stop offset=".4751" stop-color="#721a00"/><stop offset=".4800" stop-color="#6e2400"/><stop offset=".5000" stop-color="#693400"/><stop offset=".5025" stop-color="#5d3600"/><stop offset=".5200" stop-color="#574400"/><stop offset=".5274" stop-color="#564700"/><stop offset=".5723" stop-color="#5c5400"/><stop offset=".5848" stop-color="#5c5700"/><stop offset=".5948" stop-color="#5d5a00"/><stop offset=".9988" stop-color="#529400"/></linearGradient>
<linearGradient id="g0_29" gradientUnits="userSpaceOnUse" x1="0" x2="1352"><stop offset=".0012" stop-color="#667e00"/><stop offset=".1384" stop-color="#6a6f00"/><stop offset=".2232" stop-color="#6c6400"/><stop offset=".3628" stop-color="#6a4c00"/><stop offset=".4302" stop-color="#693b00"/><stop offset=".4501" stop-color="#6a3400"/><stop offset=".4676" stop-color="#6c2c00"/><stop offset=".4776" stop-color="#6e2400"/><stop offset=".4825" stop-color="#721a00"/><stop offset=".4875" stop-color="#6e2400"/><stop offset=".5000" stop-color="#6a3000"/><stop offset=".5025" stop-color="#5e3200"/><stop offset=".5200" stop-color="#584000"/><stop offset=".5374" stop-color="#594700"/><stop offset=".5748" stop-color="#5e5100"/><stop offset=".5923" stop-color="#5f5600"/><stop offset=".5948" stop-color="#5f5600"/><stop offset=".9988" stop-color="#549200"/></linearGradient>
<linearGradient id="g0_30" gradientUnits="userSpaceOnUse" x1="0" x2="1352"><stop offset=".0012" stop-color="#648200"/><stop offset=".2307" stop-color="#6a6600"/><stop offset=".3678" stop-color="#694e00"/><stop offset=".4352" stop-color="#683d00"/><stop offset=".4726" stop-color="#6b2e00"/><stop offset=".4850" stop-color="#6e2500"/><stop offset=".4900" stop-color="#721a00"/><stop offset=".4925" stop-color="#6f2200"/><stop offset=".5000" stop-color="#6c2b00"/><stop offset=".5025" stop-color="#5f2e00"/><stop offset=".5125" stop-color="#5b3700"/><stop offset=".5224" stop-color="#5b3c00"/><stop offset=".5399" stop-color="#5b4300"/><stop offset=".5748" stop-color="#614d00"/><stop offset=".5973" stop-color="#625300"/><stop offset=".6047" stop-color="#625500"/><stop offset=".9988" stop-color="#569000"/></linearGradient>
<linearGradient id="g0_31" gradientUnits="userSpaceOnUse" x1="0" x2="1352"><stop offset=".0012" stop-color="#618500"/><stop offset=".2332" stop-color="#676800"/><stop offset=".3703" stop-color="#675000"/><stop offset=".4401" stop-color="#673e00"/><stop offset=".4776" stop-color="#6b2f00"/><stop offset=".4900" stop-color="#6e2600"/><stop offset=".4925" stop-color="#6f2200"/><stop offset=".4950" stop-color="#711b00"/><stop offset=".5000" stop-color="#6d2700"/><stop offset=".5025" stop-color="#602a00"/><stop offset=".5100" stop-color="#5e3000"/><stop offset=".5224" stop-color="#5c3700"/><stop offset=".5399" stop-color="#5d3f00"/><stop offset=".5748" stop-color="#634a00"/><stop offset=".5998" stop-color="#645100"/><stop offset=".6172" stop-color="#635500"/><stop offset=".9988" stop-color="#578f00"/></linearGradient>
<linearGradient id="g0_32" gradientUnits="userSpaceOnUse" x1="0" x2="1352"><stop offset=".0012" stop-color="#5f8700"/><stop offset=".2357" stop-color="#666a00"/><stop offset=".3728" stop-color="#665100"/><stop offset=".4401" stop-color="#664000"/><stop offset=".4601" stop-color="#683900"/><stop offset=".4800" stop-color="#6b2f00"/><stop offset=".4925" stop-color="#6e2600"/><stop offset=".4950" stop-color="#6f2300"/><stop offset=".4975" stop-color="#711b00"/><stop offset=".5000" stop-color="#6f2300"/><stop offset=".5025" stop-color="#612700"/><stop offset=".5224" stop-color="#5d3500"/><stop offset=".5399" stop-color="#5e3d00"/><stop offset=".5773" stop-color="#644900"/><stop offset=".6022" stop-color="#654f00"/><stop offset=".6197" stop-color="#655300"/><stop offset=".7818" stop-color="#617000"/><stop offset=".9988" stop-color="#5a8c00"/></linearGradient>
<linearGradient id="g0_33" gradientUnits="userSpaceOnUse" x1="0" x2="1352"><stop offset=".0012" stop-color="#5c8900"/><stop offset=".2357" stop-color="#646c00"/><stop offset=".3753" stop-color="#655300"/><stop offset=".4401" stop-color="#664200"/><stop offset=".4626" stop-color="#673a00"/><stop offset=".4825" stop-color="#6a3000"/><stop offset=".4950" stop-color="#6d2700"/><stop offset=".4975" stop-color="#6f2300"/><stop offset=".5000" stop-color="#711c00"/><stop offset=".5025" stop-color="#6f2300"/><stop offset=".5050" stop-color="#6d2700"/><stop offset=".5150" stop-color="#6b2f00"/><stop offset=".5324" stop-color="#683800"/><stop offset=".5524" stop-color="#673f00"/><stop offset=".6247" stop-color="#665300"/><stop offset=".7668" stop-color="#636c00"/><stop offset=".9988" stop-color="#5d8900"/></linearGradient>
<linearGradient id="g0_34" gradientUnits="userSpaceOnUse" x1="0" x2="1352"><stop offset=".0012" stop-color="#5a8c00"/><stop offset=".2282" stop-color="#626f00"/><stop offset=".3803" stop-color="#645300"/><stop offset=".3878" stop-color="#645200"/><stop offset=".4227" stop-color="#634900"/><stop offset=".4601" stop-color="#5e3d00"/><stop offset=".4751" stop-color="#5d3600"/><stop offset=".4875" stop-color="#5e3000"/><stop offset=".4975" stop-color="#612700"/><stop offset=".5000" stop-color="#6f2300"/><stop offset=".5025" stop-color="#711b00"/><stop offset=".5050" stop-color="#6f2300"/><stop offset=".5075" stop-color="#6e2600"/><stop offset=".5175" stop-color="#6b2e00"/><stop offset=".5349" stop-color="#693700"/><stop offset=".5549" stop-color="#673e00"/><stop offset=".6272" stop-color="#675100"/><stop offset=".7643" stop-color="#656a00"/><stop offset=".9988" stop-color="#5f8700"/></linearGradient>
<linearGradient id="g0_35" gradientUnits="userSpaceOnUse" x1="0" x2="1352"><stop offset=".0012" stop-color="#568f00"/><stop offset=".2332" stop-color="#5f7100"/><stop offset=".3753" stop-color="#625700"/><stop offset=".3978" stop-color="#635200"/><stop offset=".4252" stop-color="#624b00"/><stop offset=".4601" stop-color="#5d4000"/><stop offset=".4776" stop-color="#5c3800"/><stop offset=".4900" stop-color="#5d3200"/><stop offset=".4975" stop-color="#602b00"/><stop offset=".5000" stop-color="#6d2800"/><stop offset=".5050" stop-color="#702000"/><stop offset=".5274" stop-color="#6a3100"/><stop offset=".5574" stop-color="#683d00"/><stop offset=".6446" stop-color="#685300"/><stop offset=".7643" stop-color="#676700"/><stop offset=".9988" stop-color="#628400"/></linearGradient>
<linearGradient id="g0_36" gradientUnits="userSpaceOnUse" x1="0" x2="1352"><stop offset=".0012" stop-color="#559100"/><stop offset=".2307" stop-color="#5d7300"/><stop offset=".4002" stop-color="#605500"/><stop offset=".4252" stop-color="#604f00"/><stop offset=".4626" stop-color="#5a4300"/><stop offset=".4800" stop-color="#5a3d00"/><stop offset=".4875" stop-color="#5b3900"/><stop offset=".4975" stop-color="#5e3000"/><stop offset=".5000" stop-color="#6b2d00"/><stop offset=".5100" stop-color="#6f2200"/><stop offset=".5125" stop-color="#721a00"/><stop offset=".5150" stop-color="#6f2100"/><stop offset=".5249" stop-color="#6c2b00"/><stop offset=".5574" stop-color="#693900"/><stop offset=".6347" stop-color="#6a4d00"/><stop offset=".7718" stop-color="#6a6500"/><stop offset=".9988" stop-color="#658000"/></linearGradient>
<linearGradient id="g0_37" gradientUnits="userSpaceOnUse" x1="0" x2="1352"><stop offset=".0012" stop-color="#539300"/><stop offset=".2257" stop-color="#5a7700"/><stop offset=".4027" stop-color="#5e5800"/><stop offset=".4127" stop-color="#5e5600"/><stop offset=".4252" stop-color="#5d5300"/><stop offset=".4626" stop-color="#584800"/><stop offset=".4776" stop-color="#574300"/><stop offset=".4975" stop-color="#5d3400"/><stop offset=".5000" stop-color="#6a3200"/><stop offset=".5150" stop-color="#6e2400"/><stop offset=".5200" stop-color="#721a00"/><stop offset=".5224" stop-color="#6f2100"/><stop offset=".5324" stop-color="#6d2a00"/><stop offset=".5623" stop-color="#6a3700"/><stop offset=".6397" stop-color="#6b4c00"/><stop offset=".7793" stop-color="#6b6300"/><stop offset=".9988" stop-color="#677e00"/></linearGradient>
<linearGradient id="g0_38" gradientUnits="userSpaceOnUse" x1="0" x2="1352"><stop offset=".0012" stop-color="#519500"/><stop offset=".2157" stop-color="#577b00"/><stop offset=".4052" stop-color="#5c5b00"/><stop offset=".4177" stop-color="#5b5800"/><stop offset=".4277" stop-color="#5b5500"/><stop offset=".4701" stop-color="#554900"/><stop offset=".4776" stop-color="#564600"/><stop offset=".4975" stop-color="#5d3800"/><stop offset=".5000" stop-color="#693500"/><stop offset=".5224" stop-color="#6e2400"/><stop offset=".5274" stop-color="#721a00"/><stop offset=".5299" stop-color="#6f2100"/><stop offset=".5399" stop-color="#6d2a00"/><stop offset=".5698" stop-color="#6a3700"/><stop offset=".6446" stop-color="#6b4b00"/><stop offset=".7868" stop-color="#6c6300"/><stop offset=".9988" stop-color="#687c00"/></linearGradient>
<linearGradient id="g0_39" gradientUnits="userSpaceOnUse" x1="0" x2="1352"><stop offset=".0012" stop-color="#4f9600"/><stop offset=".4077" stop-color="#5a5d00"/><stop offset=".4202" stop-color="#595a00"/><stop offset=".4302" stop-color="#595800"/><stop offset=".4651" stop-color="#544e00"/><stop offset=".4776" stop-color="#574900"/><stop offset=".4975" stop-color="#5d3b00"/><stop offset=".5000" stop-color="#683900"/><stop offset=".5274" stop-color="#6e2600"/><stop offset=".5324" stop-color="#6f2100"/><stop offset=".5349" stop-color="#721a00"/><stop offset=".5374" stop-color="#6f2100"/><stop offset=".5474" stop-color="#6d2a00"/><stop offset=".5773" stop-color="#6a3700"/><stop offset=".6521" stop-color="#6b4b00"/><stop offset=".7943" stop-color="#6c6200"/><stop offset=".9988" stop-color="#697b00"/></linearGradient>
<linearGradient id="g0_40" gradientUnits="userSpaceOnUse" x1="0" x2="1352"><stop offset=".0012" stop-color="#4d9800"/><stop offset=".4077" stop-color="#585f00"/><stop offset=".4227" stop-color="#585c00"/><stop offset=".4302" stop-color="#575a00"/><stop offset=".4576" stop-color="#535300"/><stop offset=".4751" stop-color="#574c00"/><stop offset=".4975" stop-color="#5e3e00"/><stop offset=".5000" stop-color="#673c00"/><stop offset=".5349" stop-color="#6e2600"/><stop offset=".5399" stop-color="#6f2100"/><stop offset=".5424" stop-color="#721a00"/><stop offset=".5449" stop-color="#702100"/><stop offset=".5549" stop-color="#6d2900"/><stop offset=".5848" stop-color="#6b3700"/><stop offset=".6571" stop-color="#6b4a00"/><stop offset=".8017" stop-color="#6c6200"/><stop offset=".9988" stop-color="#697a00"/></linearGradient>
<linearGradient id="g0_41" gradientUnits="userSpaceOnUse" x1="0" x2="1352"><stop offset=".0012" stop-color="#4c9a00"/><stop offset=".4077" stop-color="#566100"/><stop offset=".4177" stop-color="#565f00"/><stop offset=".4277" stop-color="#565d00"/><stop offset=".4526" stop-color="#535700"/><stop offset=".4751" stop-color="#584e00"/><stop offset=".4975" stop-color="#5f4000"/><stop offset=".5000" stop-color="#673e00"/><stop offset=".5374" stop-color="#6d2900"/><stop offset=".5474" stop-color="#701f00"/><stop offset=".5673" stop-color="#6c2d00"/><stop offset=".5948" stop-color="#6b3800"/><stop offset=".8067" stop-color="#6c6200"/><stop offset=".9988" stop-color="#697900"/></linearGradient>
<linearGradient id="g0_42" gradientUnits="userSpaceOnUse" x1="0" x2="1352"><stop offset=".0012" stop-color="#4b9b00"/><stop offset=".4077" stop-color="#556300"/><stop offset=".4177" stop-color="#556100"/><stop offset=".4252" stop-color="#555f00"/><stop offset=".4476" stop-color="#535900"/><stop offset=".4726" stop-color="#585100"/><stop offset=".4975" stop-color="#604200"/><stop offset=".5000" stop-color="#674000"/><stop offset=".5125" stop-color="#693800"/><stop offset=".5399" stop-color="#6d2a00"/><stop offset=".5549" stop-color="#701f00"/><stop offset=".5698" stop-color="#6c2c00"/><stop offset=".5998" stop-color="#6b3800"/><stop offset=".8117" stop-color="#6c6200"/><stop offset=".9988" stop-color="#697900"/></linearGradient>
<linearGradient id="g0_43" gradientUnits="userSpaceOnUse" x1="0" x2="1352"><stop offset=".0012" stop-color="#499c00"/><stop offset=".3030" stop-color="#517700"/><stop offset=".4077" stop-color="#546500"/><stop offset=".4302" stop-color="#546000"/><stop offset=".4426" stop-color="#535c00"/><stop offset=".4651" stop-color="#575500"/><stop offset=".4850" stop-color="#5d4c00"/><stop offset=".4975" stop-color="#624400"/><stop offset=".5000" stop-color="#664200"/><stop offset=".5025" stop-color="#674000"/><stop offset=".5499" stop-color="#6d2800"/><stop offset=".5574" stop-color="#702100"/><stop offset=".5599" stop-color="#721a00"/><stop offset=".5623" stop-color="#702100"/><stop offset=".5723" stop-color="#6d2900"/><stop offset=".6047" stop-color="#6b3800"/><stop offset=".6696" stop-color="#6b4900"/><stop offset=".8167" stop-color="#6c6200"/><stop offset=".9988" stop-color="#697800"/></linearGradient>
<linearGradient id="g0_44" gradientUnits="userSpaceOnUse" x1="0" x2="1352"><stop offset=".0012" stop-color="#479e00"/><stop offset=".2930" stop-color="#4f7b00"/><stop offset=".4077" stop-color="#536600"/><stop offset=".4302" stop-color="#526100"/><stop offset=".4352" stop-color="#536000"/><stop offset=".4751" stop-color="#5b5300"/><stop offset=".4975" stop-color="#634600"/><stop offset=".5000" stop-color="#664400"/><stop offset=".5050" stop-color="#684100"/><stop offset=".5549" stop-color="#6d2900"/><stop offset=".5648" stop-color="#702100"/><stop offset=".5673" stop-color="#721a00"/><stop offset=".5698" stop-color="#702100"/><stop offset=".5798" stop-color="#6d2900"/><stop offset=".6147" stop-color="#6b3900"/><stop offset=".6746" stop-color="#6b4800"/><stop offset=".8242" stop-color="#6c6200"/><stop offset=".9988" stop-color="#697700"/></linearGradient>
<linearGradient id="g0_45" gradientUnits="userSpaceOnUse" x1="0" x2="1352"><stop offset=".0012" stop-color="#46a000"/><stop offset=".2756" stop-color="#4d7f00"/><stop offset=".4227" stop-color="#526500"/><stop offset=".4252" stop-color="#526500"/><stop offset=".4501" stop-color="#565e00"/><stop offset=".4701" stop-color="#5b5700"/><stop offset=".5075" stop-color="#684200"/><stop offset=".5574" stop-color="#6c2d00"/><stop offset=".5673" stop-color="#6e2700"/><stop offset=".5748" stop-color="#701f00"/><stop offset=".5948" stop-color="#6c2d00"/><stop offset=".6272" stop-color="#6b3a00"/><stop offset=".8292" stop-color="#6c6100"/><stop offset=".9988" stop-color="#697600"/></linearGradient>
<linearGradient id="g0_46" gradientUnits="userSpaceOnUse" x1="0" x2="1352"><stop offset=".0012" stop-color="#43a200"/><stop offset=".2781" stop-color="#4b8100"/><stop offset=".4127" stop-color="#506a00"/><stop offset=".4202" stop-color="#516800"/><stop offset=".4377" stop-color="#546400"/><stop offset=".4626" stop-color="#595d00"/><stop offset=".5100" stop-color="#694300"/><stop offset=".5698" stop-color="#6c2c00"/><stop offset=".5823" stop-color="#6f2400"/><stop offset=".5848" stop-color="#702100"/><stop offset=".5873" stop-color="#721a00"/><stop offset=".5898" stop-color="#702100"/><stop offset=".5998" stop-color="#6d2900"/><stop offset=".6347" stop-color="#6b3900"/><stop offset=".6895" stop-color="#6b4700"/><stop offset=".8392" stop-color="#6b6100"/><stop offset=".9988" stop-color="#697500"/></linearGradient>
<linearGradient id="g0_47" gradientUnits="userSpaceOnUse" x1="0" x2="1352"><stop offset=".0012" stop-color="#41a400"/><stop offset=".2706" stop-color="#498500"/><stop offset=".3978" stop-color="#4e7000"/><stop offset=".4177" stop-color="#506c00"/><stop offset=".4302" stop-color="#526900"/><stop offset=".4576" stop-color="#586100"/><stop offset=".4776" stop-color="#5d5a00"/><stop offset=".5100" stop-color="#694700"/><stop offset=".5773" stop-color="#6c2f00"/><stop offset=".5923" stop-color="#6e2700"/><stop offset=".5998" stop-color="#701f00"/><stop offset=".6197" stop-color="#6c2d00"/><stop offset=".6546" stop-color="#6b3b00"/><stop offset=".8466" stop-color="#6b6000"/><stop offset=".9988" stop-color="#697400"/></linearGradient>
<linearGradient id="g0_48" gradientUnits="userSpaceOnUse" x1="0" x2="1352"><stop offset=".0012" stop-color="#3ea700"/><stop offset=".2681" stop-color="#478800"/><stop offset=".3853" stop-color="#4c7500"/><stop offset=".4252" stop-color="#516d00"/><stop offset=".4551" stop-color="#566500"/><stop offset=".4776" stop-color="#5d5d00"/><stop offset=".5050" stop-color="#684d00"/><stop offset=".5125" stop-color="#6a4a00"/><stop offset=".5923" stop-color="#6c3000"/><stop offset=".6097" stop-color="#6e2600"/><stop offset=".6147" stop-color="#702100"/><stop offset=".6172" stop-color="#721a00"/><stop offset=".6197" stop-color="#702100"/><stop offset=".6297" stop-color="#6d2900"/><stop offset=".6671" stop-color="#6b3900"/><stop offset=".7120" stop-color="#6a4500"/><stop offset=".8616" stop-color="#6b6000"/><stop offset=".9988" stop-color="#697200"/></linearGradient>
<linearGradient id="g0_49" gradientUnits="userSpaceOnUse" x1="0" x2="1352"><stop offset=".0012" stop-color="#3caa00"/><stop offset=".2681" stop-color="#458b00"/><stop offset=".3703" stop-color="#497b00"/><stop offset=".4152" stop-color="#4e7300"/><stop offset=".4252" stop-color="#507000"/><stop offset=".4501" stop-color="#556a00"/><stop offset=".4776" stop-color="#5c6100"/><stop offset=".4950" stop-color="#635900"/><stop offset=".5050" stop-color="#685100"/><stop offset=".5125" stop-color="#6a4d00"/><stop offset=".5249" stop-color="#6b4900"/><stop offset=".6072" stop-color="#6c3100"/><stop offset=".6272" stop-color="#6e2600"/><stop offset=".6322" stop-color="#702100"/><stop offset=".6347" stop-color="#721a00"/><stop offset=".6372" stop-color="#702100"/><stop offset=".6471" stop-color="#6d2900"/><stop offset=".6845" stop-color="#6b3900"/><stop offset=".7269" stop-color="#6a4500"/><stop offset=".8716" stop-color="#6b5f00"/><stop offset=".9988" stop-color="#697000"/></linearGradient>
<linearGradient id="g0_50" gradientUnits="userSpaceOnUse" x1="0" x2="1352"><stop offset=".0012" stop-color="#39ac00"/><stop offset=".3579" stop-color="#478000"/><stop offset=".4102" stop-color="#4d7700"/><stop offset=".4252" stop-color="#4f7300"/><stop offset=".4476" stop-color="#536e00"/><stop offset=".4776" stop-color="#5c6400"/><stop offset=".4950" stop-color="#625c00"/><stop offset=".5050" stop-color="#685500"/><stop offset=".5150" stop-color="#6a5000"/><stop offset=".6197" stop-color="#6b3300"/><stop offset=".6446" stop-color="#6e2600"/><stop offset=".6496" stop-color="#702100"/><stop offset=".6521" stop-color="#721a00"/><stop offset=".6546" stop-color="#702100"/><stop offset=".6646" stop-color="#6d2900"/><stop offset=".7020" stop-color="#6b3900"/><stop offset=".7394" stop-color="#6a4400"/><stop offset=".8840" stop-color="#6b5e00"/><stop offset=".9988" stop-color="#696e00"/></linearGradient>
<linearGradient id="g0_51" gradientUnits="userSpaceOnUse" x1="0" x2="1352"><stop offset=".0012" stop-color="#37af00"/><stop offset=".1209" stop-color="#3da300"/><stop offset=".3055" stop-color="#438b00"/><stop offset=".3554" stop-color="#468400"/><stop offset=".4077" stop-color="#4c7a00"/><stop offset=".4202" stop-color="#4e7800"/><stop offset=".4476" stop-color="#537100"/><stop offset=".4825" stop-color="#5d6500"/><stop offset=".4950" stop-color="#626000"/><stop offset=".5050" stop-color="#685800"/><stop offset=".5150" stop-color="#6b5300"/><stop offset=".5299" stop-color="#6b4f00"/><stop offset=".6322" stop-color="#6b3600"/><stop offset=".6571" stop-color="#6d2a00"/><stop offset=".6696" stop-color="#701f00"/><stop offset=".6895" stop-color="#6c2d00"/><stop offset=".7244" stop-color="#6a3b00"/><stop offset=".9988" stop-color="#6a6b00"/></linearGradient>
<linearGradient id="g0_52" gradientUnits="userSpaceOnUse" x1="0" x2="1352"><stop offset=".0012" stop-color="#35b200"/><stop offset=".1409" stop-color="#3ca300"/><stop offset=".3030" stop-color="#428f00"/><stop offset=".3554" stop-color="#458700"/><stop offset=".4077" stop-color="#4b7d00"/><stop offset=".4202" stop-color="#4d7b00"/><stop offset=".4476" stop-color="#527400"/><stop offset=".4850" stop-color="#5e6800"/><stop offset=".4950" stop-color="#616400"/><stop offset=".5075" stop-color="#695a00"/><stop offset=".5175" stop-color="#6b5600"/><stop offset=".6471" stop-color="#6b3700"/><stop offset=".6746" stop-color="#6d2c00"/><stop offset=".6920" stop-color="#701f00"/><stop offset=".6995" stop-color="#6e2700"/><stop offset=".7095" stop-color="#6c2d00"/><stop offset=".7444" stop-color="#6a3b00"/><stop offset=".9988" stop-color="#6a6900"/></linearGradient>
<linearGradient id="g0_53" gradientUnits="userSpaceOnUse" x1="0" x2="1352"><stop offset=".0012" stop-color="#33b400"/><stop offset=".1608" stop-color="#3ba300"/><stop offset=".2880" stop-color="#409400"/><stop offset=".3554" stop-color="#458a00"/><stop offset=".4077" stop-color="#4a8000"/><stop offset=".4202" stop-color="#4c7e00"/><stop offset=".4476" stop-color="#527700"/><stop offset=".4701" stop-color="#587100"/><stop offset=".4950" stop-color="#606700"/><stop offset=".5050" stop-color="#675f00"/><stop offset=".5175" stop-color="#6b5a00"/><stop offset=".5324" stop-color="#6c5600"/><stop offset=".6646" stop-color="#6b3800"/><stop offset=".6945" stop-color="#6d2c00"/><stop offset=".7045" stop-color="#6e2500"/><stop offset=".7095" stop-color="#701f00"/><stop offset=".7294" stop-color="#6c2d00"/><stop offset=".7643" stop-color="#6a3b00"/><stop offset=".9988" stop-color="#6a6600"/></linearGradient>
<linearGradient id="g0_54" gradientUnits="userSpaceOnUse" x1="0" x2="1352"><stop offset=".0012" stop-color="#31b700"/><stop offset=".1783" stop-color="#3aa400"/><stop offset=".2781" stop-color="#3e9800"/><stop offset=".3828" stop-color="#478800"/><stop offset=".4177" stop-color="#4b8100"/><stop offset=".4227" stop-color="#4c8000"/><stop offset=".4576" stop-color="#547800"/><stop offset=".4950" stop-color="#606b00"/><stop offset=".5075" stop-color="#686100"/><stop offset=".5200" stop-color="#6c5c00"/><stop offset=".6796" stop-color="#6b3a00"/><stop offset=".7145" stop-color="#6d2c00"/><stop offset=".7244" stop-color="#6e2500"/><stop offset=".7294" stop-color="#701f00"/><stop offset=".7494" stop-color="#6c2d00"/><stop offset=".7843" stop-color="#6a3b00"/><stop offset=".9988" stop-color="#6a6300"/></linearGradient>
<linearGradient id="g0_55" gradientUnits="userSpaceOnUse" x1="0" x2="1352"><stop offset=".0012" stop-color="#2fb900"/><stop offset=".2855" stop-color="#3e9900"/><stop offset=".3828" stop-color="#468b00"/><stop offset=".4177" stop-color="#4b8400"/><stop offset=".4227" stop-color="#4c8300"/><stop offset=".4576" stop-color="#537a00"/><stop offset=".4950" stop-color="#5f6e00"/><stop offset=".5025" stop-color="#656700"/><stop offset=".5100" stop-color="#696300"/><stop offset=".5224" stop-color="#6c5e00"/><stop offset=".6970" stop-color="#6a3b00"/><stop offset=".7319" stop-color="#6c2d00"/><stop offset=".7419" stop-color="#6e2700"/><stop offset=".7494" stop-color="#701f00"/><stop offset=".7693" stop-color="#6c2d00"/><stop offset=".8017" stop-color="#6a3a00"/><stop offset=".9988" stop-color="#6a6100"/></linearGradient>
<linearGradient id="g0_56" gradientUnits="userSpaceOnUse" x1="0" x2="1352"><stop offset=".0012" stop-color="#2ebb00"/><stop offset=".2930" stop-color="#3e9b00"/><stop offset=".3853" stop-color="#468d00"/><stop offset=".4152" stop-color="#4a8700"/><stop offset=".4252" stop-color="#4c8500"/><stop offset=".4601" stop-color="#547c00"/><stop offset=".4950" stop-color="#5f7100"/><stop offset=".5025" stop-color="#656a00"/><stop offset=".5075" stop-color="#686700"/><stop offset=".5150" stop-color="#6b6400"/><stop offset=".5224" stop-color="#6c6100"/><stop offset=".7145" stop-color="#6a3b00"/><stop offset=".7519" stop-color="#6c2d00"/><stop offset=".7618" stop-color="#6e2700"/><stop offset=".7693" stop-color="#701f00"/><stop offset=".7893" stop-color="#6c2d00"/><stop offset=".8217" stop-color="#6a3a00"/><stop offset=".9988" stop-color="#6a5e00"/></linearGradient>
<linearGradient id="g0_57" gradientUnits="userSpaceOnUse" x1="0" x2="1352"><stop offset=".0012" stop-color="#2cbd00"/><stop offset=".3005" stop-color="#3d9c00"/><stop offset=".3853" stop-color="#458f00"/><stop offset=".4152" stop-color="#498a00"/><stop offset=".4277" stop-color="#4c8700"/><stop offset=".4626" stop-color="#547e00"/><stop offset=".4950" stop-color="#5e7400"/><stop offset=".5025" stop-color="#656d00"/><stop offset=".5075" stop-color="#686a00"/><stop offset=".5150" stop-color="#6b6600"/><stop offset=".5224" stop-color="#6c6400"/><stop offset=".7319" stop-color="#6a3c00"/><stop offset=".7718" stop-color="#6c2d00"/><stop offset=".7818" stop-color="#6e2700"/><stop offset=".7893" stop-color="#701f00"/><stop offset=".8067" stop-color="#6d2c00"/><stop offset=".8392" stop-color="#6a3900"/><stop offset=".9988" stop-color="#6a5b00"/></linearGradient>
<linearGradient id="g0_58" gradientUnits="userSpaceOnUse" x1="0" x2="1352"><stop offset=".0012" stop-color="#2bc000"/><stop offset=".1933" stop-color="#36ac00"/><stop offset=".3279" stop-color="#3f9b00"/><stop offset=".3853" stop-color="#449200"/><stop offset=".4127" stop-color="#488d00"/><stop offset=".4277" stop-color="#4b8a00"/><stop offset=".4651" stop-color="#548000"/><stop offset=".4950" stop-color="#5d7700"/><stop offset=".5025" stop-color="#647000"/><stop offset=".5075" stop-color="#676d00"/><stop offset=".5150" stop-color="#6a6900"/><stop offset=".5224" stop-color="#6b6700"/><stop offset=".7519" stop-color="#6a3c00"/><stop offset=".7893" stop-color="#6c2e00"/><stop offset=".8117" stop-color="#701f00"/><stop offset=".8167" stop-color="#6e2500"/><stop offset=".8267" stop-color="#6d2c00"/><stop offset=".8566" stop-color="#6b3800"/><stop offset=".9988" stop-color="#6a5700"/></linearGradient>
<linearGradient id="g0_59" gradientUnits="userSpaceOnUse" x1="0" x2="1352"><stop offset=".0012" stop-color="#29c200"/><stop offset=".1883" stop-color="#34af00"/><stop offset=".3304" stop-color="#3e9d00"/><stop offset=".3853" stop-color="#449400"/><stop offset=".4127" stop-color="#488f00"/><stop offset=".4277" stop-color="#4b8c00"/><stop offset=".4676" stop-color="#548200"/><stop offset=".4950" stop-color="#5d7a00"/><stop offset=".5025" stop-color="#647300"/><stop offset=".5075" stop-color="#676f00"/><stop offset=".5150" stop-color="#6a6c00"/><stop offset=".5224" stop-color="#6b6a00"/><stop offset=".7693" stop-color="#6a3d00"/><stop offset=".8092" stop-color="#6c2e00"/><stop offset=".8217" stop-color="#6e2700"/><stop offset=".8292" stop-color="#701f00"/><stop offset=".8466" stop-color="#6d2c00"/><stop offset=".8741" stop-color="#6b3700"/><stop offset=".9988" stop-color="#6a5400"/></linearGradient>
<linearGradient id="g0_60" gradientUnits="userSpaceOnUse" x1="0" x2="1352"><stop offset=".0012" stop-color="#28c400"/><stop offset=".2082" stop-color="#34ae00"/><stop offset=".3379" stop-color="#3e9e00"/><stop offset=".3853" stop-color="#439700"/><stop offset=".4102" stop-color="#479200"/><stop offset=".4277" stop-color="#4a8f00"/><stop offset=".4676" stop-color="#548500"/><stop offset=".4950" stop-color="#5c7c00"/><stop offset=".5025" stop-color="#637500"/><stop offset=".5075" stop-color="#677200"/><stop offset=".5150" stop-color="#6a6e00"/><stop offset=".5249" stop-color="#6b6c00"/><stop offset=".7893" stop-color="#6a3d00"/><stop offset=".8292" stop-color="#6c2e00"/><stop offset=".8416" stop-color="#6e2700"/><stop offset=".8491" stop-color="#701f00"/><stop offset=".8666" stop-color="#6d2c00"/><stop offset=".8915" stop-color="#6b3600"/><stop offset=".9988" stop-color="#6a5100"/></linearGradient>
<linearGradient id="g0_61" gradientUnits="userSpaceOnUse" x1="0" x2="1352"><stop offset=".0012" stop-color="#27c600"/><stop offset=".2207" stop-color="#34af00"/><stop offset=".3429" stop-color="#3ea000"/><stop offset=".3853" stop-color="#439900"/><stop offset=".4102" stop-color="#479500"/><stop offset=".4302" stop-color="#4a9000"/><stop offset=".4726" stop-color="#558600"/><stop offset=".4950" stop-color="#5b7f00"/><stop offset=".5025" stop-color="#637800"/><stop offset=".5100" stop-color="#687300"/><stop offset=".5249" stop-color="#6b6e00"/><stop offset=".8067" stop-color="#6a3e00"/><stop offset=".8491" stop-color="#6c2e00"/><stop offset=".8616" stop-color="#6e2700"/><stop offset=".8691" stop-color="#701f00"/><stop offset=".8840" stop-color="#6d2a00"/><stop offset=".9065" stop-color="#6b3500"/><stop offset=".9988" stop-color="#6a4d00"/></linearGradient>
<linearGradient id="g0_62" gradientUnits="userSpaceOnUse" x1="0" x2="1352"><stop offset=".0012" stop-color="#25c800"/><stop offset=".1135" stop-color="#2cbd00"/><stop offset=".2307" stop-color="#34b000"/><stop offset=".3080" stop-color="#3aa700"/><stop offset=".3853" stop-color="#429b00"/><stop offset=".4077" stop-color="#469700"/><stop offset=".4327" stop-color="#4a9200"/><stop offset=".4776" stop-color="#568700"/><stop offset=".4950" stop-color="#5b8200"/><stop offset=".5025" stop-color="#627a00"/><stop offset=".5100" stop-color="#677500"/><stop offset=".5249" stop-color="#6b7000"/><stop offset=".8267" stop-color="#6a3e00"/><stop offset=".8691" stop-color="#6c2e00"/><stop offset=".8815" stop-color="#6e2700"/><stop offset=".8890" stop-color="#701f00"/><stop offset=".9040" stop-color="#6d2a00"/><stop offset=".9239" stop-color="#6b3400"/><stop offset=".9988" stop-color="#6a4900"/></linearGradient>
<linearGradient id="g0_63" gradientUnits="userSpaceOnUse" x1="0" x2="1352"><stop offset=".0012" stop-color="#24ca00"/><stop offset=".1110" stop-color="#2abf00"/><stop offset=".2406" stop-color="#33b100"/><stop offset=".3180" stop-color="#3aa800"/><stop offset=".3853" stop-color="#429d00"/><stop offset=".4052" stop-color="#459a00"/><stop offset=".4352" stop-color="#4a9400"/><stop offset=".4825" stop-color="#578800"/><stop offset=".4950" stop-color="#5a8400"/><stop offset=".5025" stop-color="#627d00"/><stop offset=".5100" stop-color="#677800"/><stop offset=".5175" stop-color="#697500"/><stop offset=".5249" stop-color="#6a7300"/><stop offset=".8466" stop-color="#6a3e00"/><stop offset=".8890" stop-color="#6c2e00"/><stop offset=".9115" stop-color="#701f00"/><stop offset=".9190" stop-color="#6e2700"/><stop offset=".9364" stop-color="#6c3100"/><stop offset=".9988" stop-color="#6a4400"/></linearGradient>
<linearGradient id="g0_64" gradientUnits="userSpaceOnUse" x1="0" x2="1352"><stop offset=".0012" stop-color="#23cc00"/><stop offset=".2307" stop-color="#31b400"/><stop offset=".3080" stop-color="#38ab00"/><stop offset=".3678" stop-color="#3fa200"/><stop offset=".4052" stop-color="#449c00"/><stop offset=".4227" stop-color="#479900"/><stop offset=".4726" stop-color="#538d00"/><stop offset=".4950" stop-color="#598700"/><stop offset=".5025" stop-color="#617f00"/><stop offset=".5100" stop-color="#667a00"/><stop offset=".5175" stop-color="#697700"/><stop offset=".5249" stop-color="#6a7500"/><stop offset=".8666" stop-color="#6a3e00"/><stop offset=".9090" stop-color="#6c2e00"/><stop offset=".9214" stop-color="#6e2700"/><stop offset=".9289" stop-color="#701f00"/><stop offset=".9414" stop-color="#6d2900"/><stop offset=".9539" stop-color="#6c2f00"/><stop offset=".9988" stop-color="#6a3f00"/></linearGradient>
<linearGradient id="g0_65" gradientUnits="userSpaceOnUse" x1="0" x2="1352"><stop offset=".0012" stop-color="#22cd00"/><stop offset=".2307" stop-color="#30b600"/><stop offset=".3055" stop-color="#37ad00"/><stop offset=".3653" stop-color="#3ea500"/><stop offset=".4027" stop-color="#439f00"/><stop offset=".4277" stop-color="#489a00"/><stop offset=".4776" stop-color="#548e00"/><stop offset=".4950" stop-color="#598900"/><stop offset=".5025" stop-color="#618200"/><stop offset=".5100" stop-color="#667c00"/><stop offset=".5175" stop-color="#687900"/><stop offset=".5249" stop-color="#697700"/><stop offset=".8865" stop-color="#6a3e00"/><stop offset=".9289" stop-color="#6c2e00"/><stop offset=".9414" stop-color="#6e2700"/><stop offset=".9489" stop-color="#701f00"/><stop offset=".9663" stop-color="#6d2c00"/><stop offset=".9988" stop-color="#6a3900"/></linearGradient>
<linearGradient id="g0_66" gradientUnits="userSpaceOnUse" x1="0" x2="1352"><stop offset=".0012" stop-color="#21cf00"/><stop offset=".2332" stop-color="#2fb800"/><stop offset=".3080" stop-color="#36af00"/><stop offset=".3653" stop-color="#3da700"/><stop offset=".4027" stop-color="#43a100"/><stop offset=".4327" stop-color="#499b00"/><stop offset=".4875" stop-color="#568d00"/><stop offset=".4950" stop-color="#588b00"/><stop offset=".5025" stop-color="#608400"/><stop offset=".5100" stop-color="#657e00"/><stop offset=".5175" stop-color="#687b00"/><stop offset=".5249" stop-color="#697900"/><stop offset=".9065" stop-color="#6a3e00"/><stop offset=".9489" stop-color="#6c2e00"/><stop offset=".9613" stop-color="#6e2700"/><stop offset=".9688" stop-color="#701f00"/><stop offset=".9813" stop-color="#6d2900"/><stop offset=".9988" stop-color="#6b3200"/></linearGradient>
<linearGradient id="g0_67" gradientUnits="userSpaceOnUse" x1="0" x2="1352"><stop offset=".0012" stop-color="#1fd100"/><stop offset=".2307" stop-color="#2eba00"/><stop offset=".3055" stop-color="#35b100"/><stop offset=".3628" stop-color="#3ca900"/><stop offset=".4002" stop-color="#42a300"/><stop offset=".4252" stop-color="#469e00"/><stop offset=".4925" stop-color="#578e00"/><stop offset=".4950" stop-color="#578e00"/><stop offset=".5025" stop-color="#5f8600"/><stop offset=".5100" stop-color="#658100"/><stop offset=".5175" stop-color="#677d00"/><stop offset=".5249" stop-color="#687c00"/><stop offset=".7195" stop-color="#6a6400"/><stop offset=".9264" stop-color="#6a3e00"/><stop offset=".9688" stop-color="#6c2e00"/><stop offset=".9813" stop-color="#6e2700"/><stop offset=".9888" stop-color="#701f00"/><stop offset=".9988" stop-color="#6e2700"/></linearGradient>
<linearGradient id="g1_0" gradientUnits="userSpaceOnUse" x1="0" x2="1352"><stop offset=".0012" stop-color="#732400"/><stop offset=".0137" stop-color="#751b00"/><stop offset=".0212" stop-color="#732200"/><stop offset=".0362" stop-color="#712a00"/><stop offset=".0935" stop-color="#6f3b00"/><stop offset=".4776" stop-color="#696e00"/><stop offset=".4925" stop-color="#657400"/><stop offset=".5050" stop-color="#5c7e00"/><stop offset=".5274" stop-color="#578200"/><stop offset=".5798" stop-color="#4c8b00"/><stop offset=".5948" stop-color="#498d00"/><stop offset=".6621" stop-color="#3f9700"/><stop offset=".7244" stop-color="#389f00"/><stop offset=".7993" stop-color="#31a700"/><stop offset=".9988" stop-color="#24b900"/></linearGradient>
<linearGradient id="g1_1" gradientUnits="userSpaceOnUse" x1="0" x2="1352"><stop offset=".0012" stop-color="#712f00"/><stop offset=".0262" stop-color="#732400"/><stop offset=".0362" stop-color="#751b00"/><stop offset=".0486" stop-color="#732400"/><stop offset=".0611" stop-color="#712a00"/><stop offset=".1185" stop-color="#6f3b00"/><stop offset=".4776" stop-color="#696c00"/><stop offset=".4925" stop-color="#667100"/><stop offset=".5050" stop-color="#5d7b00"/><stop offset=".5324" stop-color="#578100"/><stop offset=".5823" stop-color="#4c8900"/><stop offset=".5973" stop-color="#4a8c00"/><stop offset=".6646" stop-color="#3f9500"/><stop offset=".7294" stop-color="#389d00"/><stop offset=".8067" stop-color="#31a500"/><stop offset=".9289" stop-color="#29b100"/><stop offset=".9988" stop-color="#25b700"/></linearGradient>
<linearGradient id="g1_2" gradientUnits="userSpaceOnUse" x1="0" x2="1352"><stop offset=".0012" stop-color="#703600"/><stop offset=".0436" stop-color="#722800"/><stop offset=".0636" stop-color="#751b00"/><stop offset=".0711" stop-color="#732200"/><stop offset=".0835" stop-color="#722900"/><stop offset=".1409" stop-color="#6f3a00"/><stop offset=".4776" stop-color="#6a6900"/><stop offset=".4925" stop-color="#666f00"/><stop offset=".5050" stop-color="#5e7900"/><stop offset=".5374" stop-color="#567f00"/><stop offset=".5823" stop-color="#4d8700"/><stop offset=".5998" stop-color="#4a8a00"/><stop offset=".6646" stop-color="#409300"/><stop offset=".7319" stop-color="#399b00"/><stop offset=".8117" stop-color="#32a400"/><stop offset=".9264" stop-color="#2aaf00"/><stop offset=".9988" stop-color="#27b500"/></linearGradient>
<linearGradient id="g1_3" gradientUnits="userSpaceOnUse" x1="0" x2="1352"><stop offset=".0012" stop-color="#6f3c00"/><stop offset=".0636" stop-color="#712a00"/><stop offset=".0761" stop-color="#732400"/><stop offset=".0885" stop-color="#751b00"/><stop offset=".0960" stop-color="#732200"/><stop offset=".1085" stop-color="#722900"/><stop offset=".1633" stop-color="#6f3a00"/><stop offset=".4776" stop-color="#6a6700"/><stop offset=".4925" stop-color="#676c00"/><stop offset=".5050" stop-color="#5f7600"/><stop offset=".5424" stop-color="#567d00"/><stop offset=".5848" stop-color="#4d8500"/><stop offset=".6022" stop-color="#4a8800"/><stop offset=".6646" stop-color="#419100"/><stop offset=".7344" stop-color="#399900"/><stop offset=".8217" stop-color="#32a300"/><stop offset=".9090" stop-color="#2cab00"/><stop offset=".9988" stop-color="#28b200"/></linearGradient>
<linearGradient id="g1_4" gradientUnits="userSpaceOnUse" x1="0" x2="1352"><stop offset=".0012" stop-color="#6e4100"/><stop offset=".0835" stop-color="#712c00"/><stop offset=".1010" stop-color="#732400"/><stop offset=".1135" stop-color="#751b00"/><stop offset=".1209" stop-color="#732200"/><stop offset=".1334" stop-color="#722900"/><stop offset=".1833" stop-color="#6f3800"/><stop offset=".4776" stop-color="#6b6400"/><stop offset=".4925" stop-color="#686900"/><stop offset=".5050" stop-color="#5f7300"/><stop offset=".5474" stop-color="#567c00"/><stop offset=".5848" stop-color="#4e8200"/><stop offset=".6047" stop-color="#4b8600"/><stop offset=".6671" stop-color="#418f00"/><stop offset=".7419" stop-color="#3a9800"/><stop offset=".8342" stop-color="#32a200"/><stop offset=".8890" stop-color="#2fa700"/><stop offset=".9988" stop-color="#2ab000"/></linearGradient>
<linearGradient id="g1_5" gradientUnits="userSpaceOnUse" x1="0" x2="1352"><stop offset=".0012" stop-color="#6e4500"/><stop offset=".1035" stop-color="#712e00"/><stop offset=".1259" stop-color="#732400"/><stop offset=".1359" stop-color="#751b00"/><stop offset=".1584" stop-color="#722900"/><stop offset=".2057" stop-color="#6f3800"/><stop offset=".4776" stop-color="#6b6200"/><stop offset=".4925" stop-color="#686700"/><stop offset=".5050" stop-color="#607000"/><stop offset=".5524" stop-color="#557a00"/><stop offset=".5873" stop-color="#4e8000"/><stop offset=".6072" stop-color="#4b8400"/><stop offset=".6671" stop-color="#428c00"/><stop offset=".7469" stop-color="#3a9600"/><stop offset=".8491" stop-color="#32a100"/><stop offset=".9988" stop-color="#2cae00"/></linearGradient>
<linearGradient id="g1_6" gradientUnits="userSpaceOnUse" x1="0" x2="1352"><stop offset=".0012" stop-color="#6d4a00"/><stop offset=".1234" stop-color="#713000"/><stop offset=".1509" stop-color="#732400"/><stop offset=".1608" stop-color="#751b00"/><stop offset=".1808" stop-color="#722800"/><stop offset=".2282" stop-color="#6f3700"/><stop offset=".4776" stop-color="#6c5f00"/><stop offset=".4925" stop-color="#696400"/><stop offset=".5050" stop-color="#616d00"/><stop offset=".5549" stop-color="#557800"/><stop offset=".5873" stop-color="#4f7e00"/><stop offset=".6072" stop-color="#4b8100"/><stop offset=".6646" stop-color="#448a00"/><stop offset=".7369" stop-color="#3c9300"/><stop offset=".8267" stop-color="#359d00"/><stop offset=".9988" stop-color="#2eab00"/></linearGradient>
<linearGradient id="g1_7" gradientUnits="userSpaceOnUse" x1="0" x2="1352"><stop offset=".0012" stop-color="#6d4d00"/><stop offset=".1459" stop-color="#703000"/><stop offset=".1733" stop-color="#722500"/><stop offset=".1883" stop-color="#751b00"/><stop offset=".1958" stop-color="#732200"/><stop offset=".2057" stop-color="#722800"/><stop offset=".2481" stop-color="#703600"/><stop offset=".4776" stop-color="#6c5c00"/><stop offset=".4925" stop-color="#696100"/><stop offset=".5050" stop-color="#626a00"/><stop offset=".5574" stop-color="#567600"/><stop offset=".5873" stop-color="#507b00"/><stop offset=".6072" stop-color="#4c7f00"/><stop offset=".6621" stop-color="#458700"/><stop offset=".7294" stop-color="#3e8f00"/><stop offset=".8067" stop-color="#389800"/><stop offset=".9988" stop-color="#2fa900"/></linearGradient>
<linearGradient id="g1_8" gradientUnits="userSpaceOnUse" x1="0" x2="1352"><stop offset=".0012" stop-color="#6c5100"/><stop offset=".1658" stop-color="#703200"/><stop offset=".1983" stop-color="#722500"/><stop offset=".2132" stop-color="#751b00"/><stop offset=".2282" stop-color="#722700"/><stop offset=".2706" stop-color="#703500"/><stop offset=".4776" stop-color="#6d5900"/><stop offset=".4925" stop-color="#6a5e00"/><stop offset=".5050" stop-color="#636700"/><stop offset=".5599" stop-color="#567300"/><stop offset=".5898" stop-color="#507900"/><stop offset=".6097" stop-color="#4d7c00"/><stop offset=".6646" stop-color="#458500"/><stop offset=".7868" stop-color="#3a9400"/><stop offset=".9988" stop-color="#31a600"/></linearGradient>
<linearGradient id="g1_9" gradientUnits="userSpaceOnUse" x1="0" x2="1352"><stop offset=".0012" stop-color="#6c5400"/><stop offset=".1883" stop-color="#703300"/><stop offset=".2207" stop-color="#722700"/><stop offset=".2382" stop-color="#751b00"/><stop offset=".2531" stop-color="#722700"/><stop offset=".2905" stop-color="#703400"/><stop offset=".4800" stop-color="#6d5600"/><stop offset=".4925" stop-color="#6a5b00"/><stop offset=".5050" stop-color="#636400"/><stop offset=".5623" stop-color="#567100"/><stop offset=".5898" stop-color="#517600"/><stop offset=".6097" stop-color="#4d7a00"/><stop offset=".6646" stop-color="#468200"/><stop offset=".7668" stop-color="#3d8f00"/><stop offset=".9988" stop-color="#34a400"/></linearGradient>
<linearGradient id="g1_10" gradientUnits="userSpaceOnUse" x1="0" x2="1352"><stop offset=".0012" stop-color="#6b5700"/><stop offset=".2182" stop-color="#703100"/><stop offset=".2506" stop-color="#732300"/><stop offset=".2581" stop-color="#751d00"/><stop offset=".2606" stop-color="#771600"/><stop offset=".2631" stop-color="#751d00"/><stop offset=".2706" stop-color="#732300"/><stop offset=".3030" stop-color="#703100"/><stop offset=".4825" stop-color="#6d5400"/><stop offset=".4950" stop-color="#6a5900"/><stop offset=".5050" stop-color="#646000"/><stop offset=".5798" stop-color="#537100"/><stop offset=".5823" stop-color="#537200"/><stop offset=".6372" stop-color="#4a7b00"/><stop offset=".7095" stop-color="#438500"/><stop offset=".7469" stop-color="#408a00"/><stop offset=".9988" stop-color="#36a100"/></linearGradient>
<linearGradient id="g1_11" gradientUnits="userSpaceOnUse" x1="0" x2="1352"><stop offset=".0012" stop-color="#6b5a00"/><stop offset=".2382" stop-color="#703100"/><stop offset=".2731" stop-color="#732300"/><stop offset=".2805" stop-color="#751d00"/><stop offset=".2830" stop-color="#771600"/><stop offset=".2855" stop-color="#751d00"/><stop offset=".2930" stop-color="#732300"/><stop offset=".3204" stop-color="#712f00"/><stop offset=".4825" stop-color="#6e5100"/><stop offset=".4950" stop-color="#6a5600"/><stop offset=".5050" stop-color="#655d00"/><stop offset=".5773" stop-color="#546e00"/><stop offset=".5848" stop-color="#537000"/><stop offset=".6347" stop-color="#4b7800"/><stop offset=".7045" stop-color="#448200"/><stop offset=".9988" stop-color="#389f00"/></linearGradient>
<linearGradient id="g1_12" gradientUnits="userSpaceOnUse" x1="0" x2="1352"><stop offset=".0012" stop-color="#6b5d00"/><stop offset=".2581" stop-color="#703200"/><stop offset=".2955" stop-color="#732300"/><stop offset=".3030" stop-color="#751d00"/><stop offset=".3055" stop-color="#771600"/><stop offset=".3080" stop-color="#751d00"/><stop offset=".3155" stop-color="#732300"/><stop offset=".3404" stop-color="#712e00"/><stop offset=".4825" stop-color="#6e4d00"/><stop offset=".4950" stop-color="#6b5200"/><stop offset=".5050" stop-color="#665900"/><stop offset=".5723" stop-color="#566a00"/><stop offset=".5848" stop-color="#546d00"/><stop offset=".6222" stop-color="#4e7300"/><stop offset=".6845" stop-color="#477d00"/><stop offset=".9988" stop-color="#3b9c00"/></linearGradient>
<linearGradient id="g1_13" gradientUnits="userSpaceOnUse" x1="0" x2="1352"><stop offset=".0012" stop-color="#6a5f00"/><stop offset=".2706" stop-color="#703500"/><stop offset=".3080" stop-color="#722800"/><stop offset=".3279" stop-color="#751b00"/><stop offset=".3379" stop-color="#732400"/><stop offset=".3628" stop-color="#712f00"/><stop offset=".4850" stop-color="#6e4b00"/><stop offset=".4950" stop-color="#6b4f00"/><stop offset=".5050" stop-color="#665600"/><stop offset=".5673" stop-color="#586600"/><stop offset=".5923" stop-color="#536b00"/><stop offset=".6122" stop-color="#506f00"/><stop offset=".6671" stop-color="#497800"/><stop offset=".9988" stop-color="#3d9900"/></linearGradient>
<linearGradient id="g1_14" gradientUnits="userSpaceOnUse" x1="0" x2="1352"><stop offset=".0012" stop-color="#6a6100"/><stop offset=".2980" stop-color="#703200"/><stop offset=".3354" stop-color="#732300"/><stop offset=".3429" stop-color="#751d00"/><stop offset=".3454" stop-color="#771600"/><stop offset=".3479" stop-color="#751d00"/><stop offset=".3529" stop-color="#732100"/><stop offset=".3728" stop-color="#712c00"/><stop offset=".4850" stop-color="#6e4700"/><stop offset=".4950" stop-color="#6c4c00"/><stop offset=".5050" stop-color="#675300"/><stop offset=".5623" stop-color="#596300"/><stop offset=".5873" stop-color="#546800"/><stop offset=".6047" stop-color="#526b00"/><stop offset=".6521" stop-color="#4c7300"/><stop offset=".9988" stop-color="#409700"/></linearGradient>
<linearGradient id="g1_15" gradientUnits="userSpaceOnUse" x1="0" x2="1352"><stop offset=".0012" stop-color="#6a6300"/><stop offset=".3055" stop-color="#703500"/><stop offset=".3429" stop-color="#722800"/><stop offset=".3628" stop-color="#751b00"/><stop offset=".3728" stop-color="#732400"/><stop offset=".3928" stop-color="#712d00"/><stop offset=".4850" stop-color="#6e4500"/><stop offset=".4950" stop-color="#6c4900"/><stop offset=".5050" stop-color="#685000"/><stop offset=".5574" stop-color="#5b5f00"/><stop offset=".5948" stop-color="#546700"/><stop offset=".6372" stop-color="#4e6e00"/><stop offset=".9988" stop-color="#429500"/></linearGradient>
<linearGradient id="g1_16" gradientUnits="userSpaceOnUse" x1="0" x2="1352"><stop offset=".0012" stop-color="#6a6500"/><stop offset=".3229" stop-color="#703400"/><stop offset=".3603" stop-color="#722700"/><stop offset=".3753" stop-color="#751b00"/><stop offset=".3878" stop-color="#732400"/><stop offset=".4027" stop-color="#712b00"/><stop offset=".4875" stop-color="#6d4300"/><stop offset=".4950" stop-color="#6c4600"/><stop offset=".5050" stop-color="#684d00"/><stop offset=".5549" stop-color="#5c5c00"/><stop offset=".5898" stop-color="#556400"/><stop offset=".5973" stop-color="#546500"/><stop offset=".6247" stop-color="#516a00"/><stop offset=".9988" stop-color="#449300"/></linearGradient>
<linearGradient id="g1_17" gradientUnits="userSpaceOnUse" x1="0" x2="1352"><stop offset=".0012" stop-color="#6a6600"/><stop offset=".3429" stop-color="#703200"/><stop offset=".3778" stop-color="#722500"/><stop offset=".3878" stop-color="#751d00"/><stop offset=".3903" stop-color="#771600"/><stop offset=".3953" stop-color="#741f00"/><stop offset=".4102" stop-color="#722800"/><stop offset=".4900" stop-color="#6d4100"/><stop offset=".5050" stop-color="#684a00"/><stop offset=".5499" stop-color="#5d5900"/><stop offset=".5923" stop-color="#556200"/><stop offset=".6097" stop-color="#536500"/><stop offset=".9988" stop-color="#479100"/></linearGradient>
<linearGradient id="g1_18" gradientUnits="userSpaceOnUse" x1="0" x2="1352"><stop offset=".0012" stop-color="#6a6700"/><stop offset=".3579" stop-color="#703100"/><stop offset=".3928" stop-color="#732300"/><stop offset=".4002" stop-color="#751d00"/><stop offset=".4027" stop-color="#771600"/><stop offset=".4077" stop-color="#741f00"/><stop offset=".4202" stop-color="#722700"/><stop offset=".4900" stop-color="#6d3e00"/><stop offset=".5424" stop-color="#5f5400"/><stop offset=".5923" stop-color="#556000"/><stop offset=".5948" stop-color="#556100"/><stop offset=".9988" stop-color="#498f00"/></linearGradient>
<linearGradient id="g1_19" gradientUnits="userSpaceOnUse" x1="0" x2="1352"><stop offset=".0012" stop-color="#696800"/><stop offset=".3653" stop-color="#703300"/><stop offset=".3978" stop-color="#722700"/><stop offset=".4127" stop-color="#751b00"/><stop offset=".4327" stop-color="#712800"/><stop offset=".4925" stop-color="#6d3d00"/><stop offset=".5000" stop-color="#6b4100"/><stop offset=".5025" stop-color="#684300"/><stop offset=".5050" stop-color="#674500"/><stop offset=".5324" stop-color="#604f00"/><stop offset=".5848" stop-color="#565d00"/><stop offset=".6097" stop-color="#566100"/><stop offset=".9988" stop-color="#4b8d00"/></linearGradient>
<linearGradient id="g1_20" gradientUnits="userSpaceOnUse" x1="0" x2="1352"><stop offset=".0012" stop-color="#696900"/><stop offset=".3180" stop-color="#6f4000"/><stop offset=".3778" stop-color="#703100"/><stop offset=".4102" stop-color="#722500"/><stop offset=".4202" stop-color="#741d00"/><stop offset=".4227" stop-color="#771600"/><stop offset=".4252" stop-color="#741d00"/><stop offset=".4352" stop-color="#722500"/><stop offset=".4950" stop-color="#6c3c00"/><stop offset=".5000" stop-color="#6b3f00"/><stop offset=".5025" stop-color="#674100"/><stop offset=".5050" stop-color="#664200"/><stop offset=".5399" stop-color="#5d5000"/><stop offset=".5748" stop-color="#565900"/><stop offset=".5773" stop-color="#565900"/><stop offset=".6072" stop-color="#585f00"/><stop offset=".9988" stop-color="#4d8c00"/></linearGradient>
<linearGradient id="g1_21" gradientUnits="userSpaceOnUse" x1="0" x2="1352"><stop offset=".0012" stop-color="#696a00"/><stop offset=".3229" stop-color="#6f4000"/><stop offset=".3853" stop-color="#703100"/><stop offset=".4177" stop-color="#722500"/><stop offset=".4277" stop-color="#741d00"/><stop offset=".4302" stop-color="#771600"/><stop offset=".4327" stop-color="#741d00"/><stop offset=".4426" stop-color="#722500"/><stop offset=".4975" stop-color="#6c3b00"/><stop offset=".5000" stop-color="#6b3d00"/><stop offset=".5025" stop-color="#653f00"/><stop offset=".5374" stop-color="#5c4d00"/><stop offset=".5673" stop-color="#565600"/><stop offset=".5723" stop-color="#565700"/><stop offset=".5898" stop-color="#595a00"/><stop offset=".6072" stop-color="#595d00"/><stop offset=".9988" stop-color="#4e8b00"/></linearGradient>
<linearGradient id="g1_22" gradientUnits="userSpaceOnUse" x1="0" x2="1352"><stop offset=".0012" stop-color="#696b00"/><stop offset=".3279" stop-color="#6f4100"/><stop offset=".3928" stop-color="#703100"/><stop offset=".4252" stop-color="#722500"/><stop offset=".4352" stop-color="#741d00"/><stop offset=".4377" stop-color="#771600"/><stop offset=".4401" stop-color="#741d00"/><stop offset=".4476" stop-color="#722300"/><stop offset=".4875" stop-color="#6e3400"/><stop offset=".5000" stop-color="#6b3b00"/><stop offset=".5025" stop-color="#643d00"/><stop offset=".5324" stop-color="#5c4a00"/><stop offset=".5599" stop-color="#565200"/><stop offset=".5648" stop-color="#565300"/><stop offset=".5873" stop-color="#5a5800"/><stop offset=".6072" stop-color="#5b5b00"/><stop offset=".9988" stop-color="#508900"/></linearGradient>
<linearGradient id="g1_23" gradientUnits="userSpaceOnUse" x1="0" x2="1352"><stop offset=".0012" stop-color="#696b00"/><stop offset=".2282" stop-color="#6e5200"/><stop offset=".3329" stop-color="#6f4100"/><stop offset=".4002" stop-color="#703100"/><stop offset=".4327" stop-color="#722500"/><stop offset=".4426" stop-color="#741d00"/><stop offset=".4451" stop-color="#761600"/><stop offset=".4476" stop-color="#741d00"/><stop offset=".4551" stop-color="#722300"/><stop offset=".5000" stop-color="#6c3900"/><stop offset=".5025" stop-color="#623b00"/><stop offset=".5324" stop-color="#5b4800"/><stop offset=".5549" stop-color="#564f00"/><stop offset=".5648" stop-color="#585100"/><stop offset=".5848" stop-color="#5b5500"/><stop offset=".6047" stop-color="#5c5900"/><stop offset=".9988" stop-color="#518800"/></linearGradient>
<linearGradient id="g1_24" gradientUnits="userSpaceOnUse" x1="0" x2="1352"><stop offset=".0012" stop-color="#696c00"/><stop offset=".2481" stop-color="#6e5000"/><stop offset=".4052" stop-color="#6f3300"/><stop offset=".4352" stop-color="#712800"/><stop offset=".4526" stop-color="#751b00"/><stop offset=".5000" stop-color="#6c3600"/><stop offset=".5025" stop-color="#613800"/><stop offset=".5324" stop-color="#5a4600"/><stop offset=".5474" stop-color="#574b00"/><stop offset=".5773" stop-color="#5c5200"/><stop offset=".5848" stop-color="#5d5300"/><stop offset=".6047" stop-color="#5e5700"/><stop offset=".9988" stop-color="#538700"/></linearGradient>
<linearGradient id="g1_25" gradientUnits="userSpaceOnUse" x1="0" x2="1352"><stop offset=".0012" stop-color="#696d00"/><stop offset=".2631" stop-color="#6e5000"/><stop offset=".4152" stop-color="#6f3300"/><stop offset=".4451" stop-color="#712800"/><stop offset=".4626" stop-color="#751b00"/><stop offset=".5000" stop-color="#6d3300"/><stop offset=".5025" stop-color="#613500"/><stop offset=".5374" stop-color="#584500"/><stop offset=".5524" stop-color="#594900"/><stop offset=".5823" stop-color="#5f5000"/><stop offset=".5848" stop-color="#5f5000"/><stop offset=".6047" stop-color="#605400"/><stop offset=".9988" stop-color="#568500"/></linearGradient>
<linearGradient id="g1_26" gradientUnits="userSpaceOnUse" x1="0" x2="1352"><stop offset=".0012" stop-color="#696f00"/><stop offset=".2781" stop-color="#6e4f00"/><stop offset=".4227" stop-color="#6f3400"/><stop offset=".4526" stop-color="#712900"/><stop offset=".4751" stop-color="#751b00"/><stop offset=".5000" stop-color="#6e2f00"/><stop offset=".5025" stop-color="#623100"/><stop offset=".5224" stop-color="#5c3d00"/><stop offset=".5299" stop-color="#5b4000"/><stop offset=".5474" stop-color="#5b4400"/><stop offset=".5848" stop-color="#624d00"/><stop offset=".5923" stop-color="#624e00"/><stop offset=".6072" stop-color="#635100"/><stop offset=".9988" stop-color="#588300"/></linearGradient>
<linearGradient id="g1_27" gradientUnits="userSpaceOnUse" x1="0" x2="1352"><stop offset=".0012" stop-color="#687100"/><stop offset=".2880" stop-color="#6d5000"/><stop offset=".4302" stop-color="#6e3500"/><stop offset=".4626" stop-color="#702a00"/><stop offset=".4850" stop-color="#751b00"/><stop offset=".5000" stop-color="#702a00"/><stop offset=".5025" stop-color="#632c00"/><stop offset=".5175" stop-color="#5f3600"/><stop offset=".5299" stop-color="#5d3b00"/><stop offset=".5499" stop-color="#5e4100"/><stop offset=".5848" stop-color="#644900"/><stop offset=".6072" stop-color="#654e00"/><stop offset=".9988" stop-color="#5a8100"/></linearGradient>
<linearGradient id="g1_28" gradientUnits="userSpaceOnUse" x1="0" x2="1352"><stop offset=".0012" stop-color="#657500"/><stop offset=".2980" stop-color="#6c5200"/><stop offset=".3703" stop-color="#6c4600"/><stop offset=".4352" stop-color="#6d3700"/><stop offset=".4751" stop-color="#702900"/><stop offset=".4875" stop-color="#732100"/><stop offset=".4925" stop-color="#761800"/><stop offset=".4950" stop-color="#741e00"/><stop offset=".5000" stop-color="#722400"/><stop offset=".5025" stop-color="#652700"/><stop offset=".5125" stop-color="#622e00"/><stop offset=".5324" stop-color="#603700"/><stop offset=".5499" stop-color="#603c00"/><stop offset=".5848" stop-color="#674500"/><stop offset=".6072" stop-color="#684a00"/><stop offset=".6122" stop-color="#684b00"/><stop offset=".9988" stop-color="#5c8000"/></linearGradient>
<linearGradient id="g1_29" gradientUnits="userSpaceOnUse" x1="0" x2="1352"><stop offset=".0012" stop-color="#627800"/><stop offset=".3055" stop-color="#6a5400"/><stop offset=".3728" stop-color="#6b4800"/><stop offset=".4352" stop-color="#6c3a00"/><stop offset=".4800" stop-color="#702a00"/><stop offset=".4925" stop-color="#732200"/><stop offset=".4975" stop-color="#761800"/><stop offset=".5000" stop-color="#731f00"/><stop offset=".5025" stop-color="#662300"/><stop offset=".5150" stop-color="#632b00"/><stop offset=".5324" stop-color="#613300"/><stop offset=".5499" stop-color="#623900"/><stop offset=".5848" stop-color="#684200"/><stop offset=".6097" stop-color="#694800"/><stop offset=".6197" stop-color="#694a00"/><stop offset=".7145" stop-color="#675a00"/><stop offset=".9988" stop-color="#5f7d00"/></linearGradient>
<linearGradient id="g1_30" gradientUnits="userSpaceOnUse" x1="0" x2="1352"><stop offset=".0012" stop-color="#607a00"/><stop offset=".3753" stop-color="#6a4900"/><stop offset=".4352" stop-color="#6b3c00"/><stop offset=".4800" stop-color="#6f2c00"/><stop offset=".4950" stop-color="#732200"/><stop offset=".5000" stop-color="#761800"/><stop offset=".5050" stop-color="#732200"/><stop offset=".5200" stop-color="#6f2c00"/><stop offset=".5673" stop-color="#6b3c00"/><stop offset=".6247" stop-color="#6a4900"/><stop offset=".7219" stop-color="#695a00"/><stop offset=".9988" stop-color="#617a00"/></linearGradient>
<linearGradient id="g1_31" gradientUnits="userSpaceOnUse" x1="0" x2="1352"><stop offset=".0012" stop-color="#5d7e00"/><stop offset=".3678" stop-color="#684d00"/><stop offset=".3928" stop-color="#694800"/><stop offset=".4152" stop-color="#684300"/><stop offset=".4501" stop-color="#613a00"/><stop offset=".4676" stop-color="#613400"/><stop offset=".4850" stop-color="#632c00"/><stop offset=".4975" stop-color="#662400"/><stop offset=".5000" stop-color="#732100"/><stop offset=".5050" stop-color="#741d00"/><stop offset=".5125" stop-color="#722500"/><stop offset=".5274" stop-color="#6f2d00"/><stop offset=".5698" stop-color="#6c3b00"/><stop offset=".6397" stop-color="#6c4a00"/><stop offset=".7269" stop-color="#6b5800"/><stop offset=".9988" stop-color="#647700"/></linearGradient>
<linearGradient id="g1_32" gradientUnits="userSpaceOnUse" x1="0" x2="1352"><stop offset=".0012" stop-color="#5b8000"/><stop offset=".3928" stop-color="#674b00"/><stop offset=".4152" stop-color="#664600"/><stop offset=".4501" stop-color="#603e00"/><stop offset=".4701" stop-color="#5f3700"/><stop offset=".4875" stop-color="#613000"/><stop offset=".4975" stop-color="#642900"/><stop offset=".5000" stop-color="#712600"/><stop offset=".5075" stop-color="#741e00"/><stop offset=".5100" stop-color="#761700"/><stop offset=".5150" stop-color="#732100"/><stop offset=".5274" stop-color="#702900"/><stop offset=".5698" stop-color="#6d3700"/><stop offset=".6322" stop-color="#6d4500"/><stop offset=".7369" stop-color="#6d5600"/><stop offset=".9988" stop-color="#677300"/></linearGradient>
<linearGradient id="g1_33" gradientUnits="userSpaceOnUse" x1="0" x2="1352"><stop offset=".0012" stop-color="#598200"/><stop offset=".3928" stop-color="#654e00"/><stop offset=".3978" stop-color="#654e00"/><stop offset=".4152" stop-color="#644a00"/><stop offset=".4526" stop-color="#5d4100"/><stop offset=".4726" stop-color="#5d3b00"/><stop offset=".4825" stop-color="#5e3800"/><stop offset=".4975" stop-color="#632d00"/><stop offset=".5000" stop-color="#6f2b00"/><stop offset=".5175" stop-color="#751b00"/><stop offset=".5424" stop-color="#702b00"/><stop offset=".5748" stop-color="#6e3500"/><stop offset=".7469" stop-color="#6e5400"/><stop offset=".9988" stop-color="#6a7000"/></linearGradient>
<linearGradient id="g1_34" gradientUnits="userSpaceOnUse" x1="0" x2="1352"><stop offset=".0012" stop-color="#578300"/><stop offset=".3953" stop-color="#625100"/><stop offset=".4102" stop-color="#624f00"/><stop offset=".4127" stop-color="#614e00"/><stop offset=".4476" stop-color="#5b4600"/><stop offset=".4676" stop-color="#5a4100"/><stop offset=".4751" stop-color="#5b3f00"/><stop offset=".4975" stop-color="#623200"/><stop offset=".5000" stop-color="#6e3000"/><stop offset=".5299" stop-color="#751b00"/><stop offset=".5374" stop-color="#722200"/><stop offset=".5499" stop-color="#712900"/><stop offset=".5823" stop-color="#6e3400"/><stop offset=".7618" stop-color="#6f5400"/><stop offset=".9988" stop-color="#6b6e00"/></linearGradient>
<linearGradient id="g1_35" gradientUnits="userSpaceOnUse" x1="0" x2="1352"><stop offset=".0012" stop-color="#548500"/><stop offset=".3953" stop-color="#605500"/><stop offset=".4152" stop-color="#5f5100"/><stop offset=".4202" stop-color="#5e5000"/><stop offset=".4451" stop-color="#594b00"/><stop offset=".4601" stop-color="#584700"/><stop offset=".4975" stop-color="#613500"/><stop offset=".5000" stop-color="#6d3400"/><stop offset=".5299" stop-color="#732200"/><stop offset=".5374" stop-color="#751b00"/><stop offset=".5599" stop-color="#712900"/><stop offset=".5898" stop-color="#6f3300"/><stop offset=".7743" stop-color="#6f5400"/><stop offset=".9988" stop-color="#6b6d00"/></linearGradient>
<linearGradient id="g1_36" gradientUnits="userSpaceOnUse" x1="0" x2="1352"><stop offset=".0012" stop-color="#528700"/><stop offset=".3953" stop-color="#5d5700"/><stop offset=".4152" stop-color="#5c5400"/><stop offset=".4252" stop-color="#5b5200"/><stop offset=".4451" stop-color="#574e00"/><stop offset=".4526" stop-color="#574c00"/><stop offset=".4975" stop-color="#623900"/><stop offset=".5000" stop-color="#6c3700"/><stop offset=".5374" stop-color="#722400"/><stop offset=".5474" stop-color="#751b00"/><stop offset=".5673" stop-color="#712800"/><stop offset=".5998" stop-color="#6f3300"/><stop offset=".7868" stop-color="#6f5500"/><stop offset=".9988" stop-color="#6b6c00"/></linearGradient>
<linearGradient id="g1_37" gradientUnits="userSpaceOnUse" x1="0" x2="1352"><stop offset=".0012" stop-color="#508800"/><stop offset=".3953" stop-color="#5c5a00"/><stop offset=".4152" stop-color="#5b5600"/><stop offset=".4377" stop-color="#575200"/><stop offset=".4426" stop-color="#565100"/><stop offset=".4651" stop-color="#5a4a00"/><stop offset=".4975" stop-color="#633b00"/><stop offset=".5000" stop-color="#6c3a00"/><stop offset=".5474" stop-color="#722300"/><stop offset=".5549" stop-color="#741d00"/><stop offset=".5574" stop-color="#761600"/><stop offset=".5599" stop-color="#741d00"/><stop offset=".5698" stop-color="#722500"/><stop offset=".6047" stop-color="#6f3200"/><stop offset=".6671" stop-color="#6f4100"/><stop offset=".8017" stop-color="#6f5500"/><stop offset=".9988" stop-color="#6b6b00"/></linearGradient>
<linearGradient id="g1_38" gradientUnits="userSpaceOnUse" x1="0" x2="1352"><stop offset=".0012" stop-color="#4f8a00"/><stop offset=".3928" stop-color="#5a5c00"/><stop offset=".4127" stop-color="#5a5800"/><stop offset=".4327" stop-color="#565500"/><stop offset=".4377" stop-color="#565300"/><stop offset=".4651" stop-color="#5c4c00"/><stop offset=".4975" stop-color="#643d00"/><stop offset=".5000" stop-color="#6b3c00"/><stop offset=".5125" stop-color="#6e3500"/><stop offset=".5524" stop-color="#722500"/><stop offset=".5623" stop-color="#741d00"/><stop offset=".5648" stop-color="#761600"/><stop offset=".5673" stop-color="#741d00"/><stop offset=".5773" stop-color="#722500"/><stop offset=".6122" stop-color="#6f3200"/><stop offset=".6746" stop-color="#6f4100"/><stop offset=".8117" stop-color="#6e5600"/><stop offset=".9988" stop-color="#6b6a00"/></linearGradient>
<linearGradient id="g1_39" gradientUnits="userSpaceOnUse" x1="0" x2="1352"><stop offset=".0012" stop-color="#4d8b00"/><stop offset=".3928" stop-color="#595e00"/><stop offset=".4077" stop-color="#595b00"/><stop offset=".4277" stop-color="#565700"/><stop offset=".4302" stop-color="#565700"/><stop offset=".4601" stop-color="#5c4f00"/><stop offset=".4950" stop-color="#654100"/><stop offset=".4975" stop-color="#663f00"/><stop offset=".5000" stop-color="#6b3e00"/><stop offset=".5025" stop-color="#6c3c00"/><stop offset=".5599" stop-color="#722500"/><stop offset=".5698" stop-color="#741d00"/><stop offset=".5723" stop-color="#761600"/><stop offset=".5748" stop-color="#741d00"/><stop offset=".5848" stop-color="#722500"/><stop offset=".6197" stop-color="#703200"/><stop offset=".6796" stop-color="#6f4000"/><stop offset=".8192" stop-color="#6e5600"/><stop offset=".9988" stop-color="#6b6a00"/></linearGradient>
<linearGradient id="g1_40" gradientUnits="userSpaceOnUse" x1="0" x2="1352"><stop offset=".0012" stop-color="#4c8c00"/><stop offset=".3928" stop-color="#575f00"/><stop offset=".4202" stop-color="#565a00"/><stop offset=".4227" stop-color="#565a00"/><stop offset=".4526" stop-color="#5c5200"/><stop offset=".4800" stop-color="#634900"/><stop offset=".4975" stop-color="#674100"/><stop offset=".5000" stop-color="#6b4000"/><stop offset=".5050" stop-color="#6c3d00"/><stop offset=".5648" stop-color="#722600"/><stop offset=".5748" stop-color="#741f00"/><stop offset=".5798" stop-color="#761600"/><stop offset=".5823" stop-color="#741d00"/><stop offset=".5923" stop-color="#722500"/><stop offset=".6272" stop-color="#703200"/><stop offset=".6845" stop-color="#6f4000"/><stop offset=".8292" stop-color="#6e5600"/><stop offset=".9988" stop-color="#6b6900"/></linearGradient>
<linearGradient id="g1_41" gradientUnits="userSpaceOnUse" x1="0" x2="1352"><stop offset=".0012" stop-color="#4a8d00"/><stop offset=".4127" stop-color="#565e00"/><stop offset=".4626" stop-color="#5f5100"/><stop offset=".4950" stop-color="#684500"/><stop offset=".5000" stop-color="#6a4200"/><stop offset=".5075" stop-color="#6c3d00"/><stop offset=".5673" stop-color="#712900"/><stop offset=".5798" stop-color="#732200"/><stop offset=".5873" stop-color="#751b00"/><stop offset=".6072" stop-color="#712800"/><stop offset=".6397" stop-color="#703300"/><stop offset=".8367" stop-color="#6e5600"/><stop offset=".9988" stop-color="#6b6800"/></linearGradient>
<linearGradient id="g1_42" gradientUnits="userSpaceOnUse" x1="0" x2="1352"><stop offset=".0012" stop-color="#488f00"/><stop offset=".4002" stop-color="#556200"/><stop offset=".4077" stop-color="#566100"/><stop offset=".4526" stop-color="#5e5600"/><stop offset=".5100" stop-color="#6d3f00"/><stop offset=".5798" stop-color="#712800"/><stop offset=".5948" stop-color="#741f00"/><stop offset=".5998" stop-color="#771600"/><stop offset=".6022" stop-color="#741d00"/><stop offset=".6122" stop-color="#722500"/><stop offset=".6471" stop-color="#703200"/><stop offset=".9988" stop-color="#6b6700"/></linearGradient>
<linearGradient id="g1_43" gradientUnits="userSpaceOnUse" x1="0" x2="1352"><stop offset=".0012" stop-color="#469100"/><stop offset=".3853" stop-color="#526700"/><stop offset=".4002" stop-color="#546400"/><stop offset=".4152" stop-color="#566100"/><stop offset=".4476" stop-color="#5c5a00"/><stop offset=".5125" stop-color="#6d4100"/><stop offset=".5873" stop-color="#712b00"/><stop offset=".6047" stop-color="#732200"/><stop offset=".6122" stop-color="#751b00"/><stop offset=".6322" stop-color="#712800"/><stop offset=".6671" stop-color="#703400"/><stop offset=".9988" stop-color="#6b6600"/></linearGradient>
<linearGradient id="g1_44" gradientUnits="userSpaceOnUse" x1="0" x2="1352"><stop offset=".0012" stop-color="#439300"/><stop offset=".3703" stop-color="#506c00"/><stop offset=".4027" stop-color="#546600"/><stop offset=".4077" stop-color="#556500"/><stop offset=".4426" stop-color="#5b5d00"/><stop offset=".4950" stop-color="#684e00"/><stop offset=".5050" stop-color="#6c4700"/><stop offset=".5125" stop-color="#6e4400"/><stop offset=".5973" stop-color="#702d00"/><stop offset=".6172" stop-color="#722400"/><stop offset=".6297" stop-color="#751b00"/><stop offset=".6347" stop-color="#732100"/><stop offset=".6471" stop-color="#722800"/><stop offset=".6820" stop-color="#703400"/><stop offset=".9988" stop-color="#6b6400"/></linearGradient>
<linearGradient id="g1_45" gradientUnits="userSpaceOnUse" x1="0" x2="1352"><stop offset=".0012" stop-color="#419600"/><stop offset=".3554" stop-color="#4d7100"/><stop offset=".4002" stop-color="#536900"/><stop offset=".4127" stop-color="#556600"/><stop offset=".4401" stop-color="#5a6100"/><stop offset=".4950" stop-color="#685100"/><stop offset=".5050" stop-color="#6c4a00"/><stop offset=".5125" stop-color="#6e4700"/><stop offset=".6172" stop-color="#712c00"/><stop offset=".6372" stop-color="#732100"/><stop offset=".6421" stop-color="#741d00"/><stop offset=".6446" stop-color="#771600"/><stop offset=".6471" stop-color="#741d00"/><stop offset=".6571" stop-color="#722500"/><stop offset=".6945" stop-color="#703300"/><stop offset=".9988" stop-color="#6c6200"/></linearGradient>
<linearGradient id="g1_46" gradientUnits="userSpaceOnUse" x1="0" x2="1352"><stop offset=".0012" stop-color="#3e9800"/><stop offset=".3404" stop-color="#4b7500"/><stop offset=".3928" stop-color="#516d00"/><stop offset=".4127" stop-color="#546900"/><stop offset=".4352" stop-color="#596400"/><stop offset=".4950" stop-color="#675400"/><stop offset=".5050" stop-color="#6c4d00"/><stop offset=".5150" stop-color="#6e4900"/><stop offset=".6297" stop-color="#712d00"/><stop offset=".6546" stop-color="#732100"/><stop offset=".6596" stop-color="#751d00"/><stop offset=".6621" stop-color="#771600"/><stop offset=".6646" stop-color="#751d00"/><stop offset=".6746" stop-color="#722500"/><stop offset=".7120" stop-color="#703300"/><stop offset=".9988" stop-color="#6c6000"/></linearGradient>
<linearGradient id="g1_47" gradientUnits="userSpaceOnUse" x1="0" x2="1352"><stop offset=".0012" stop-color="#3c9a00"/><stop offset=".3229" stop-color="#487a00"/><stop offset=".3803" stop-color="#4f7100"/><stop offset=".4077" stop-color="#536c00"/><stop offset=".4302" stop-color="#576800"/><stop offset=".4950" stop-color="#675700"/><stop offset=".5050" stop-color="#6c5000"/><stop offset=".5150" stop-color="#6e4c00"/><stop offset=".6397" stop-color="#703000"/><stop offset=".6671" stop-color="#722500"/><stop offset=".6796" stop-color="#751b00"/><stop offset=".6995" stop-color="#722800"/><stop offset=".7369" stop-color="#703500"/><stop offset=".9988" stop-color="#6c5e00"/></linearGradient>
<linearGradient id="g1_48" gradientUnits="userSpaceOnUse" x1="0" x2="1352"><stop offset=".0012" stop-color="#3a9d00"/><stop offset=".3055" stop-color="#467f00"/><stop offset=".3728" stop-color="#4d7500"/><stop offset=".4152" stop-color="#546e00"/><stop offset=".4252" stop-color="#556c00"/><stop offset=".4950" stop-color="#665a00"/><stop offset=".5050" stop-color="#6c5300"/><stop offset=".5175" stop-color="#6f4e00"/><stop offset=".6621" stop-color="#703000"/><stop offset=".6920" stop-color="#732300"/><stop offset=".6995" stop-color="#751d00"/><stop offset=".7020" stop-color="#771600"/><stop offset=".7045" stop-color="#751d00"/><stop offset=".7145" stop-color="#722500"/><stop offset=".7519" stop-color="#703300"/><stop offset=".9988" stop-color="#6c5c00"/></linearGradient>
<linearGradient id="g1_49" gradientUnits="userSpaceOnUse" x1="0" x2="1352"><stop offset=".0012" stop-color="#37a000"/><stop offset=".2855" stop-color="#438400"/><stop offset=".3579" stop-color="#4a7a00"/><stop offset=".4102" stop-color="#527200"/><stop offset=".4177" stop-color="#537000"/><stop offset=".4526" stop-color="#5b6900"/><stop offset=".4950" stop-color="#655e00"/><stop offset=".5050" stop-color="#6b5700"/><stop offset=".5175" stop-color="#6e5200"/><stop offset=".6771" stop-color="#703300"/><stop offset=".7095" stop-color="#722700"/><stop offset=".7244" stop-color="#751b00"/><stop offset=".7444" stop-color="#722800"/><stop offset=".7793" stop-color="#703400"/><stop offset=".9988" stop-color="#6c5900"/></linearGradient>
<linearGradient id="g1_50" gradientUnits="userSpaceOnUse" x1="0" x2="1352"><stop offset=".0012" stop-color="#35a200"/><stop offset=".2382" stop-color="#3e8d00"/><stop offset=".3354" stop-color="#478100"/><stop offset=".3903" stop-color="#4e7800"/><stop offset=".4177" stop-color="#537300"/><stop offset=".4377" stop-color="#577000"/><stop offset=".4950" stop-color="#656200"/><stop offset=".5075" stop-color="#6c5900"/><stop offset=".5200" stop-color="#6e5500"/><stop offset=".7045" stop-color="#703200"/><stop offset=".7394" stop-color="#722500"/><stop offset=".7494" stop-color="#751d00"/><stop offset=".7519" stop-color="#771600"/><stop offset=".7544" stop-color="#751d00"/><stop offset=".7643" stop-color="#722500"/><stop offset=".7968" stop-color="#703100"/><stop offset=".9988" stop-color="#6d5600"/></linearGradient>
<linearGradient id="g1_51" gradientUnits="userSpaceOnUse" x1="0" x2="1352"><stop offset=".0012" stop-color="#32a500"/><stop offset=".2157" stop-color="#3b9200"/><stop offset=".3379" stop-color="#468300"/><stop offset=".3928" stop-color="#4e7b00"/><stop offset=".4177" stop-color="#527700"/><stop offset=".4426" stop-color="#577200"/><stop offset=".4950" stop-color="#646600"/><stop offset=".5075" stop-color="#6b5d00"/><stop offset=".5200" stop-color="#6e5800"/><stop offset=".7269" stop-color="#703400"/><stop offset=".7668" stop-color="#722500"/><stop offset=".7768" stop-color="#751d00"/><stop offset=".7793" stop-color="#771600"/><stop offset=".7818" stop-color="#751d00"/><stop offset=".7893" stop-color="#732300"/><stop offset=".8217" stop-color="#703100"/><stop offset=".9988" stop-color="#6d5200"/></linearGradient>
<linearGradient id="g1_52" gradientUnits="userSpaceOnUse" x1="0" x2="1352"><stop offset=".0012" stop-color="#30a800"/><stop offset=".1958" stop-color="#389700"/><stop offset=".2731" stop-color="#3e8e00"/><stop offset=".3404" stop-color="#458600"/><stop offset=".3953" stop-color="#4d7e00"/><stop offset=".4202" stop-color="#527900"/><stop offset=".4451" stop-color="#577400"/><stop offset=".4950" stop-color="#636900"/><stop offset=".5075" stop-color="#6b6000"/><stop offset=".5224" stop-color="#6e5b00"/><stop offset=".7519" stop-color="#6f3400"/><stop offset=".7943" stop-color="#722500"/><stop offset=".8042" stop-color="#751d00"/><stop offset=".8067" stop-color="#771600"/><stop offset=".8092" stop-color="#751d00"/><stop offset=".8167" stop-color="#732300"/><stop offset=".8466" stop-color="#703000"/><stop offset=".9988" stop-color="#6d4e00"/></linearGradient>
<linearGradient id="g1_53" gradientUnits="userSpaceOnUse" x1="0" x2="1352"><stop offset=".0012" stop-color="#2eab00"/><stop offset=".1733" stop-color="#359c00"/><stop offset=".2656" stop-color="#3d9200"/><stop offset=".3379" stop-color="#448900"/><stop offset=".3953" stop-color="#4c8000"/><stop offset=".4202" stop-color="#517c00"/><stop offset=".4476" stop-color="#577700"/><stop offset=".4950" stop-color="#626d00"/><stop offset=".5075" stop-color="#6a6300"/><stop offset=".5224" stop-color="#6e5e00"/><stop offset=".7768" stop-color="#6f3500"/><stop offset=".8192" stop-color="#722600"/><stop offset=".8292" stop-color="#741f00"/><stop offset=".8342" stop-color="#771600"/><stop offset=".8367" stop-color="#751d00"/><stop offset=".8441" stop-color="#732300"/><stop offset=".8691" stop-color="#702e00"/><stop offset=".9988" stop-color="#6e4a00"/></linearGradient>
<linearGradient id="g1_54" gradientUnits="userSpaceOnUse" x1="0" x2="1352"><stop offset=".0012" stop-color="#2cae00"/><stop offset=".1584" stop-color="#33a000"/><stop offset=".2581" stop-color="#3b9600"/><stop offset=".3354" stop-color="#438c00"/><stop offset=".3953" stop-color="#4c8300"/><stop offset=".4227" stop-color="#517f00"/><stop offset=".4501" stop-color="#567900"/><stop offset=".4950" stop-color="#617000"/><stop offset=".5075" stop-color="#6a6700"/><stop offset=".5224" stop-color="#6d6100"/><stop offset=".8017" stop-color="#6f3600"/><stop offset=".8466" stop-color="#722600"/><stop offset=".8566" stop-color="#741f00"/><stop offset=".8616" stop-color="#771600"/><stop offset=".8641" stop-color="#751d00"/><stop offset=".8691" stop-color="#732100"/><stop offset=".8915" stop-color="#712c00"/><stop offset=".9988" stop-color="#6e4600"/></linearGradient>
<linearGradient id="g1_55" gradientUnits="userSpaceOnUse" x1="0" x2="1352"><stop offset=".0012" stop-color="#2ab000"/><stop offset=".1060" stop-color="#2ea800"/><stop offset=".1733" stop-color="#33a100"/><stop offset=".2631" stop-color="#3a9700"/><stop offset=".3354" stop-color="#428f00"/><stop offset=".4002" stop-color="#4c8500"/><stop offset=".4227" stop-color="#508100"/><stop offset=".4576" stop-color="#577b00"/><stop offset=".4950" stop-color="#607300"/><stop offset=".5075" stop-color="#696a00"/><stop offset=".5224" stop-color="#6d6400"/><stop offset=".8267" stop-color="#6f3600"/><stop offset=".8741" stop-color="#722600"/><stop offset=".8840" stop-color="#741f00"/><stop offset=".8890" stop-color="#771600"/><stop offset=".8915" stop-color="#751d00"/><stop offset=".8965" stop-color="#732100"/><stop offset=".9140" stop-color="#712b00"/><stop offset=".9988" stop-color="#6e4100"/></linearGradient>
<linearGradient id="g1_56" gradientUnits="userSpaceOnUse" x1="0" x2="1352"><stop offset=".0012" stop-color="#28b300"/><stop offset=".0860" stop-color="#2cac00"/><stop offset=".1858" stop-color="#33a200"/><stop offset=".2706" stop-color="#3a9900"/><stop offset=".3379" stop-color="#419100"/><stop offset=".4027" stop-color="#4b8700"/><stop offset=".4252" stop-color="#508400"/><stop offset=".4651" stop-color="#587c00"/><stop offset=".4950" stop-color="#5f7600"/><stop offset=".5075" stop-color="#686c00"/><stop offset=".5224" stop-color="#6c6700"/><stop offset=".8541" stop-color="#6f3600"/><stop offset=".9015" stop-color="#722600"/><stop offset=".9115" stop-color="#741f00"/><stop offset=".9165" stop-color="#771600"/><stop offset=".9214" stop-color="#741f00"/><stop offset=".9364" stop-color="#712800"/><stop offset=".9988" stop-color="#6f3b00"/></linearGradient>
<linearGradient id="g1_57" gradientUnits="userSpaceOnUse" x1="0" x2="1352"><stop offset=".0012" stop-color="#26b500"/><stop offset=".0661" stop-color="#29b000"/><stop offset=".1933" stop-color="#32a400"/><stop offset=".2731" stop-color="#399b00"/><stop offset=".3379" stop-color="#409300"/><stop offset=".4052" stop-color="#4b8900"/><stop offset=".4277" stop-color="#4f8600"/><stop offset=".4701" stop-color="#597e00"/><stop offset=".4950" stop-color="#5f7900"/><stop offset=".5075" stop-color="#686f00"/><stop offset=".5150" stop-color="#6a6c00"/><stop offset=".5224" stop-color="#6b6a00"/><stop offset=".8791" stop-color="#6f3700"/><stop offset=".9289" stop-color="#722600"/><stop offset=".9389" stop-color="#741f00"/><stop offset=".9439" stop-color="#771600"/><stop offset=".9464" stop-color="#751d00"/><stop offset=".9564" stop-color="#722500"/><stop offset=".9988" stop-color="#6f3400"/></linearGradient>
<linearGradient id="g1_58" gradientUnits="userSpaceOnUse" x1="0" x2="1352"><stop offset=".0012" stop-color="#25b700"/><stop offset=".0935" stop-color="#2ab000"/><stop offset=".2007" stop-color="#32a500"/><stop offset=".2756" stop-color="#389d00"/><stop offset=".3379" stop-color="#409600"/><stop offset=".4052" stop-color="#4a8c00"/><stop offset=".4726" stop-color="#588100"/><stop offset=".4950" stop-color="#5e7c00"/><stop offset=".5075" stop-color="#677200"/><stop offset=".5150" stop-color="#6a6f00"/><stop offset=".5249" stop-color="#6b6c00"/><stop offset=".8242" stop-color="#6e4700"/><stop offset=".9040" stop-color="#6f3800"/><stop offset=".9539" stop-color="#722700"/><stop offset=".9663" stop-color="#741f00"/><stop offset=".9713" stop-color="#771600"/><stop offset=".9738" stop-color="#751d00"/><stop offset=".9788" stop-color="#732100"/><stop offset=".9988" stop-color="#712c00"/></linearGradient>
<linearGradient id="g1_59" gradientUnits="userSpaceOnUse" x1="0" x2="1352"><stop offset=".0012" stop-color="#24b900"/><stop offset=".2057" stop-color="#31a600"/><stop offset=".2781" stop-color="#389f00"/><stop offset=".3404" stop-color="#3f9700"/><stop offset=".4077" stop-color="#4a8e00"/><stop offset=".4202" stop-color="#4c8c00"/><stop offset=".4776" stop-color="#598200"/><stop offset=".4950" stop-color="#5d7e00"/><stop offset=".5025" stop-color="#637800"/><stop offset=".5100" stop-color="#687300"/><stop offset=".5249" stop-color="#6b6e00"/><stop offset=".9190" stop-color="#6f3900"/><stop offset=".9688" stop-color="#712a00"/><stop offset=".9838" stop-color="#732200"/><stop offset=".9913" stop-color="#751b00"/><stop offset=".9988" stop-color="#732100"/></linearGradient>
</defs>
<rect width="3187" height="3025" fill="#fff"/>

<g transform="translate(1240,112)" filter="url(#cm0)" shape-rendering="crispEdges">
<rect y="0" width="1352" height="30" fill="url(#g0_0)"/>
<rect y="30" width="1352" height="31" fill="url(#g0_1)"/>
<rect y="61" width="1352" height="30" fill="url(#g0_2)"/>
<rect y="91" width="1352" height="30" fill="url(#g0_3)"/>
<rect y="121" width="1352" height="31" fill="url(#g0_4)"/>
<rect y="152" width="1352" height="30" fill="url(#g0_5)"/>
<rect y="182" width="1352" height="30" fill="url(#g0_6)"/>
<rect y="212" width="1352" height="31" fill="url(#g0_7)"/>
<rect y="243" width="1352" height="30" fill="url(#g0_8)"/>
<rect y="273" width="1352" height="27" fill="url(#g0_9)"/>
<rect y="300" width="1352" height="27" fill="url(#g0_10)"/>
<rect y="327" width="1352" height="27" fill="url(#g0_11)"/>
<rect y="354" width="1352" height="27" fill="url(#g0_12)"/>
<rect y="381" width="1352" height="27" fill="url(#g0_13)"/>
<rect y="408" width="1352" height="24" fill="url(#g0_14)"/>
<rect y="432" width="1352" height="23" fill="url(#g0_15)"/>
<rect y="455" width="1352" height="24" fill="url(#g0_16)"/>
<rect y="479" width="1352" height="23" fill="url(#g0_17)"/>
<rect y="502" width="1352" height="21" fill="url(#g0_18)"/>
<rect y="523" width="1352" height="20" fill="url(#g0_19)"/>
<rect y="543" width="1352" height="17" fill="url(#g0_20)"/>
<rect y="560" width="1352" height="13" fill="url(#g0_21)"/>
<rect y="573" width="1352" height="10" fill="url(#g0_22)"/>
<rect y="583" width="1352" height="10" fill="url(#g0_23)"/>
<rect y="593" width="1352" height="11" fill="url(#g0_24)"/>
<rect y="604" width="1352" height="10" fill="url(#g0_25)"/>
<rect y="614" width="1352" height="10" fill="url(#g0_26)"/>
<rect y="624" width="1352" height="13" fill="url(#g0_27)"/>
<rect y="637" width="1352" height="10" fill="url(#g0_28)"/>
<rect y="647" width="1352" height="10" fill="url(#g0_29)"/>
<rect y="657" width="1352" height="11" fill="url(#g0_30)"/>
<rect y="668" width="1352" height="3" fill="url(#g0_31)"/>
<rect y="671" width="1352" height="3" fill="url(#g0_32)"/>
<rect y="674" width="1352" height="4" fill="url(#g0_33)"/>
<rect y="678" width="1352" height="3" fill="url(#g0_34)"/>
<rect y="681" width="1352" height="7" fill="url(#g0_35)"/>
<rect y="688" width="1352" height="10" fill="url(#g0_36)"/>
<rect y="698" width="1352" height="10" fill="url(#g0_37)"/>
<rect y="708" width="1352" height="10" fill="url(#g0_38)"/>
<rect y="718" width="1352" height="10" fill="url(#g0_39)"/>
<rect y="728" width="1352" height="10" fill="url(#g0_40)"/>
<rect y="738" width="1352" height="7" fill="url(#g0_41)"/>
<rect y="745" width="1352" height="7" fill="url(#g0_42)"/>
<rect y="752" width="1352" height="10" fill="url(#g0_43)"/>
<rect y="762" width="1352" height="10" fill="url(#g0_44)"/>
<rect y="772" width="1352" height="14" fill="url(#g0_45)"/>
<rect y="786" width="1352" height="16" fill="url(#g0_46)"/>
<rect y="802" width="1352" height="21" fill="url(#g0_47)"/>
<rect y="823" width="1352" height="23" fill="url(#g0_48)"/>
<rect y="846" width="1352" height="24" fill="url(#g0_49)"/>
<rect y="870" width="1352" height="23" fill="url(#g0_50)"/>
<rect y="893" width="1352" height="27" fill="url(#g0_51)"/>
<rect y="920" width="1352" height="27" fill="url(#g0_52)"/>
<rect y="947" width="1352" height="27" fill="url(#g0_53)"/>
<rect y="974" width="1352" height="27" fill="url(#g0_54)"/>
<rect y="1001" width="1352" height="27" fill="url(#g0_55)"/>
<rect y="1028" width="1352" height="27" fill="url(#g0_56)"/>
<rect y="1055" width="1352" height="27" fill="url(#g0_57)"/>
<rect y="1082" width="1352" height="27" fill="url(#g0_58)"/>
<rect y="1109" width="1352" height="27" fill="url(#g0_59)"/>
<rect y="1136" width="1352" height="27" fill="url(#g0_60)"/>
<rect y="1163" width="1352" height="27" fill="url(#g0_61)"/>
<rect y="1190" width="1352" height="27" fill="url(#g0_62)"/>
<rect y="1217" width="1352" height="27" fill="url(#g0_63)"/>
<rect y="1244" width="1352" height="27" fill="url(#g0_64)"/>
<rect y="1271" width="1352" height="27" fill="url(#g0_65)"/>
<rect y="1298" width="1352" height="27" fill="url(#g0_66)"/>
<rect y="1325" width="1352" height="27" fill="url(#g0_67)"/>
<path transform="scale(3.37157)" fill="#631900" d="M0 0h1v1h-1zm1 1h1v1h-1zm1 1h1v1h-1zm1 1h1v1h-1zm1 1h1v1h-1zm1 1h1v1h-1zm1 1h1v1h-1zm1 1h1v1h-1zm1 1h1v1h-1zm1 1h1v1h-1zm1 1h1v1h-1zm1 1h1v1h-1zm1 1h1v1h-1zm1 1h1v1h-1zm1 1h1v1h-1zm1 1h1v1h-1zm1 1h1v1h-1zm1 1h1v1h-1zm1 1h1v1h-1zm1 1h1v1h-1zm1 1h1v1h-1zm1 1h1v1h-1zm1 1h1v1h-1zm1 1h1v1h-1zm1 1h1v1h-1zm1 1h1v1h-1zm1 1h1v1h-1zm1 1h1v1h-1zm1 1h1v1h-1zm1 1h1v1h-1zm1 1h1v1h-1zm1 1h1v1h-1zm1 1h1v1h-1zm1 1h1v1h-1zm1 1h1v1h-1zm1 1h1v1h-1zm1 1h1v1h-1zm1 1h1v1h-1zm1 1h1v1h-1zm1 1h1v1h-1zm1 1h1v1h-1zm1 1h1v1h-1zm1 1h1v1h-1zm1 1h1v1h-1zm1 1h1v1h-1zm1 1h1v1h-1zm1 1h1v1h-1zm1 1h1v1h-1zm1 1h1v1h-1zm1 1h1v1h-1zm1 1h1v1h-1zm1 1h1v1h-1zm1 1h1v1h-1zm1 1h1v1h-1zm1 1h1v1h-1zm1 1h1v1h-1zm1 1h1v1h-1zm1 1h1v1h-1zm1 1h1v1h-1zm1 1h1v1h-1zm1 1h1v1h-1zm1 1h1v1h-1zm1 1h1v1h-1zm1 1h1v1h-1zm1 1h1v1h-1zm1 1h1v1h-1zm1 1h1v1h-1zm1 1h1v1h-1zm1 1h1v1h-1zm1 1h1v1h-1zm1 1h1v1h-1zm1 1h1v1h-1zm1 1h1v1h-1zm1 1h1v1h-1zm1 1h1v1h-1zm1 1h1v1h-1zm1 1h1v1h-1zm1 1h1v1h-1zm1 1h1v1h-1zm1 1h1v1h-1zm1 1h1v1h-1zm1 1h1v1h-1zm1 1h1v1h-1zm1 1h1v1h-1zm1 1h1v1h-1zm1 1h1v1h-1zm1 1h1v1h-1zm1 1h1v1h-1zm1 1h1v1h-1zm1 1h1v1h-1zm1 1h1v1h-1zm1 1h1v1h-1zm1 1h1v1h-1zm1 1h1v1h-1zm1 1h1v1h-1zm1 1h1v1h-1zm1 1h1v1h-1zm1 1h1v1h-1zm1 1h1v1h-1zm1 1h1v1h-1zm1 1h1v1h-1zm1 1h1v1h-1zm1 1h1v1h-1zm1 1h1v1h-1zm1 1h1v1h-1zm1 1h1v1h-1zm1 1h1v1h-1zm1 1h1v1h-1zm1 1h1v1h-1zm1 1h1v1h-1zm1 1h1v1h-1zm1 1h1v1h-1zm1 1h1v1h-1zm1 1h1v1h-1zm1 1h1v1h-1zm1 1h1v1h-1zm1 1h1v1h-1zm1 1h1v1h-1zm1 1h1v1h-1zm1 1h1v1h-1zm1 1h1v1h-1zm1 1h1v1h-1zm1 1h1v1h-1zm1 1h1v1h-1zm1 1h1v1h-1zm1 1h1v1h-1zm1 1h1v1h-1zm1 1h1v1h-1zm1 1h1v1h-1zm1 1h1v1h-1zm1 1h1v1h-1zm1 1h1v1h-1zm1 1h1v1h-1zm1 1h1v1h-1zm1 1h1v1h-1zm1 1h1v1h-1zm1 1h1v1h-1zm1 1h1v1h-1zm1 1h1v1h-1zm1 1h1v1h-1zm1 1h1v1h-1zm1 1h1v1h-1zm1 1h1v1h-1zm1 1h1v1h-1zm1 1h1v1h-1zm1 1h1v1h-1zm1 1h1v1h-1zm1 1h1v1h-1zm1 1h1v1h-1zm1 1h1v1h-1zm1 1h1v1h-1zm1 1h1v1h-1zm1 1h1v1h-1zm1 1h1v1h-1zm1 1h1v1h-1zm1 1h1v1h-1zm1 1h1v1h-1zm1 1h1v1h-1zm1 1h1v1h-1zm1 1h1v1h-1zm1 1h1v1h-1zm1 1h1v1h-1zm1 1h1v1h-1zm1 1h1v1h-1zm1 1h1v1h-1zm1 1h1v1h-1zm1 1h1v1h-1zm1 1h1v1h-1zm1 1h1v1h-1zm1 1h1v1h-1zm1 1h1v1h-1zm1 1h1v1h-1zm1 1h1v1h-1zm1 1h1v1h-1zm1 1h1v1h-1zm1 1h1v1h-1zm1 1h1v1h-1zm1 1h1v1h-1zm1 1h1v1h-1zm1 1h1v1h-1zm1 1h1v1h-1zm1 1h1v1h-1zm1 1h1v1h-1zm1 1h1v1h-1zm1 1h1v1h-1zm1 1h1v1h-1zm1 1h1v1h-1zm1 1h1v1h-1zm1 1h1v1h-1zm1 1h1v1h-1zm1 1h1v1h-1zm1 1h1v1h-1zm1 1h1v1h-1zm1 1h1v1h-1zm1 1h1v1h-1zm1 1h1v1h-1zm1 1h1v1h-1zm1 1h1v1h-1zm1 1h1v1h-1zm1 1h1v1h-1zm1 1h1v1h-1zm1 1h1v1h-1zm1 1h1v1h-1zm1 1h1v1h-1zm1 1h1v1h-1zm1 1h1v1h-1zm1 1h1v1h-1zm1 1h1v1h-1zm1 1h1v1h-1zm1 1h1v1h-1zm1 1h1v1h-1zm1 1h1v1h-1zm1 1h1v1h-1zm1 1h1v1h-1zm1 1h1v1h-1zm1 1h1v1h-1zm1 1h1v1h-1zm1 1h1v1h-1zm1 1h1v1h-1zm1 1h1v1h-1zm1 1h1v1h-1zm1 1h1v1h-1zm1 1h1v1h-1zm1 1h1v1h-1zm1 1h1v1h-1zm1 1h1v1h-1zm1 1h1v1h-1zm1 1h1v1h-1zm1 1h1v1h-1zm1 1h1v1h-1zm1 1h1v1h-1zm1 1h1v1h-1zm1 1h1v1h-1zm1 1h1v1h-1zm1 1h1v1h-1zm1 1h1v1h-1zm1 1h1v1h-1zm1 1h1v1h-1zm1 1h1v1h-1zm1 1h1v1h-1zm1 1h1v1h-1zm1 1h1v1h-1zm1 1h1v1h-1zm1 1h1v1h-1zm1 1h1v1h-1zm1 1h1v1h-1zm1 1h1v1h-1zm1 1h1v1h-1zm1 1h1v1h-1zm1 1h1v1h-1zm1 1h1v1h-1zm1 1h1v1h-1zm1 1h1v1h-1zm1 1h1v1h-1zm1 1h1v1h-1zm1 1h1v1h-1zm1 1h1v1h-1zm1 1h1v1h-1zm1 1h1v1h-1zm1 1h1v1h-1zm1 1h1v1h-1zm1 1h1v1h-1zm1 1h1v1h-1zm1 1h1v1h-1zm1 1h1v1h-1zm1 1h1v1h-1zm1 1h1v1h-1zm1 1h1v1h-1zm1 1h1v1h-1zm1 1h1v1h-1zm1 1h1v1h-1zm1 1h1v1h-1zm1 1h1v1h-1zm1 1h1v1h-1zm1 1h1v1h-1zm1 1h1v1h-1zm1 1h1v1h-1zm1 1h1v1h-1zm1 1h1v1h-1zm1 1h1v1h-1zm1 1h1v1h-1zm1 1h1v1h-1zm1 1h1v1h-1zm1 1h1v1h-1zm1 1h1v1h-1zm1 1h1v1h-1zm1 1h1v1h-1zm1 1h1v1h-1zm1 1h1v1h-1zm1 1h1v1h-1zm1 1h1v1h-1zm1 1h1v1h-1zm1 1h1v1h-1zm1 1h1v1h-1zm1 1h1v1h-1zm1 1h1v1h-1zm1 1h1v1h-1zm1 1h1v1h-1zm1 1h1v1h-1zm1 1h1v1h-1zm1 1h1v1h-1zm1 1h1v1h-1zm1 1h1v1h-1zm1 1h1v1h-1zm1 1h1v1h-1zm1 1h1v1h-1zm1 1h1v1h-1zm1 1h1v1h-1zm1 1h1v1h-1zm1 1h1v1h-1zm1 1h1v1h-1zm1 1h1v1h-1zm1 1h1v1h-1zm1 1h1v1h-1zm1 1h1v1h-1zm1 1h1v1h-1zm1 1h1v1h-1zm1 1h1v1h-1zm1 1h1v1h-1zm1 1h1v1h-1zm1 1h1v1h-1zm1 1h1v1h-1zm1 1h1v1h-1zm1 1h1v1h-1zm1 1h1v1h-1zm1 1h1v1h-1zm1 1h1v1h-1zm1 1h1v1h-1zm1 1h1v1h-1zm1 1h1v1h-1zm1 1h1v1h-1zm1 1h1v1h-1zm1 1h1v1h-1zm1 1h1v1h-1zm1 1h1v1h-1zm1 1h1v1h-1zm1 1h1v1h-1zm1 1h1v1h-1zm1 1h1v1h-1zm1 1h1v1h-1zm1 1h1v1h-1zm1 1h1v1h-1zm1 1h1v1h-1zm1 1h1v1h-1zm1 1h1v1h-1zm1 1h1v1h-1zm1 1h1v1h-1zm1 1h1v1h-1zm1 1h1v1h-1zm1 1h1v1h-1zm1 1h1v1h-1zm1 1h1v1h-1zm1 1h1v1h-1zm1 1h1v1h-1zm1 1h1v1h-1zm1 1h1v1h-1zm1 1h1v1h-1zm1 1h1v1h-1zm1 1h1v1h-1zm1 1h1v1h-1zm1 1h1v1h-1zm1 1h1v1h-1zm1 1h1v1h-1zm1 1h1v1h-1zm1 1h1v1h-1zm1 1h1v1h-1zm1 1h1v1h-1zm1 1h1v1h-1zm1 1h1v1h-1zm1 1h1v1h-1zm1 1h1v1h-1zm1 1h1v1h-1zm1 1h1v1h-1zm1 1h1v1h-1zm1 1h1v1h-1zm1 1h1v1h-1zm1 1h1v1h-1zm1 1h1v1h-1zm1 1h1v1h-1zm1 1h1v1h-1zm1 1h1v1h-1zm1 1h1v1h-1zm1 1h1v1h-1zm1 1h1v1h-1zm1 1h1v1h-1zm1 1h1v1h-1zm1 1h1v1h-1zm1 1h1v1h-1zm1 1h1v1h-1zm1 1h1v1h-1zm1 1h1v1h-1zm1 1h1v1h-1zm1 1h1v1h-1zm1 1h1v1h-1zm1 1h1v1h-1zm1 1h1v1h-1zm1 1h1v1h-1zm1 1h1v1h-1zm1 1h1v1h-1zm1 1h1v1h-1zm1 1h1v1h-1zm1 1"/>
</g>
<g transform="translate(1240,1532)" filter="url(#cm1)" shape-rendering="crispEdges">
<rect y="0" width="1352" height="34" fill="url(#g1_0)"/>
<rect y="34" width="1352" height="33" fill="url(#g1_1)"/>
<rect y="67" width="1352" height="34" fill="url(#g1_2)"/>
<rect y="101" width="1352" height="34" fill="url(#g1_3)"/>
<rect y="135" width="1352" height="34" fill="url(#g1_4)"/>
<rect y="169" width="1352" height="33" fill="url(#g1_5)"/>
<rect y="202" width="1352" height="34" fill="url(#g1_6)"/>
<rect y="236" width="1352" height="34" fill="url(#g1_7)"/>
<rect y="270" width="1352" height="33" fill="url(#g1_8)"/>
<rect y="303" width="1352" height="34" fill="url(#g1_9)"/>
<rect y="337" width="1352" height="31" fill="url(#g1_10)"/>
<rect y="368" width="1352" height="30" fill="url(#g1_11)"/>
<rect y="398" width="1352" height="30" fill="url(#g1_12)"/>
<rect y="428" width="1352" height="27" fill="url(#g1_13)"/>
<rect y="455" width="1352" height="24" fill="url(#g1_14)"/>
<rect y="479" width="1352" height="20" fill="url(#g1_15)"/>
<rect y="499" width="1352" height="20" fill="url(#g1_16)"/>
<rect y="519" width="1352" height="17" fill="url(#g1_17)"/>
<rect y="536" width="1352" height="17" fill="url(#g1_18)"/>
<rect y="553" width="1352" height="13" fill="url(#g1_19)"/>
<rect y="566" width="1352" height="11" fill="url(#g1_20)"/>
<rect y="577" width="1352" height="10" fill="url(#g1_21)"/>
<rect y="587" width="1352" height="10" fill="url(#g1_22)"/>
<rect y="597" width="1352" height="10" fill="url(#g1_23)"/>
<rect y="607" width="1352" height="13" fill="url(#g1_24)"/>
<rect y="620" width="1352" height="14" fill="url(#g1_25)"/>
<rect y="634" width="1352" height="13" fill="url(#g1_26)"/>
<rect y="647" width="1352" height="14" fill="url(#g1_27)"/>
<rect y="661" width="1352" height="10" fill="url(#g1_28)"/>
<rect y="671" width="1352" height="3" fill="url(#g1_29)"/>
<rect y="674" width="1352" height="4" fill="url(#g1_30)"/>
<rect y="678" width="1352" height="6" fill="url(#g1_31)"/>
<rect y="684" width="1352" height="11" fill="url(#g1_32)"/>
<rect y="695" width="1352" height="13" fill="url(#g1_33)"/>
<rect y="708" width="1352" height="14" fill="url(#g1_34)"/>
<rect y="722" width="1352" height="13" fill="url(#g1_35)"/>
<rect y="735" width="1352" height="13" fill="url(#g1_36)"/>
<rect y="748" width="1352" height="11" fill="url(#g1_37)"/>
<rect y="759" width="1352" height="10" fill="url(#g1_38)"/>
<rect y="769" width="1352" height="10" fill="url(#g1_39)"/>
<rect y="779" width="1352" height="10" fill="url(#g1_40)"/>
<rect y="789" width="1352" height="13" fill="url(#g1_41)"/>
<rect y="802" width="1352" height="17" fill="url(#g1_42)"/>
<rect y="819" width="1352" height="21" fill="url(#g1_43)"/>
<rect y="840" width="1352" height="20" fill="url(#g1_44)"/>
<rect y="860" width="1352" height="23" fill="url(#g1_45)"/>
<rect y="883" width="1352" height="24" fill="url(#g1_46)"/>
<rect y="907" width="1352" height="27" fill="url(#g1_47)"/>
<rect y="934" width="1352" height="30" fill="url(#g1_48)"/>
<rect y="964" width="1352" height="34" fill="url(#g1_49)"/>
<rect y="998" width="1352" height="37" fill="url(#g1_50)"/>
<rect y="1035" width="1352" height="37" fill="url(#g1_51)"/>
<rect y="1072" width="1352" height="37" fill="url(#g1_52)"/>
<rect y="1109" width="1352" height="37" fill="url(#g1_53)"/>
<rect y="1146" width="1352" height="37" fill="url(#g1_54)"/>
<rect y="1183" width="1352" height="38" fill="url(#g1_55)"/>
<rect y="1221" width="1352" height="37" fill="url(#g1_56)"/>
<rect y="1258" width="1352" height="37" fill="url(#g1_57)"/>
<rect y="1295" width="1352" height="37" fill="url(#g1_58)"/>
<rect y="1332" width="1352" height="20" fill="url(#g1_59)"/>
<path transform="scale(3.37157)" fill="#6a1900" d="M0 0h1v1h-1zm1 1h1v1h-1zm1 1h1v1h-1zm1 1h1v1h-1zm1 1h1v1h-1zm1 1h1v1h-1zm1 1h1v1h-1zm1 1h1v1h-1zm1 1h1v1h-1zm1 1h1v1h-1zm1 1h1v1h-1zm1 1h1v1h-1zm1 1h1v1h-1zm1 1h1v1h-1zm1 1h1v1h-1zm1 1h1v1h-1zm1 1h1v1h-1zm1 1h1v1h-1zm1 1h1v1h-1zm1 1h1v1h-1zm1 1h1v1h-1zm1 1h1v1h-1zm1 1h1v1h-1zm1 1h1v1h-1zm1 1h1v1h-1zm1 1h1v1h-1zm1 1h1v1h-1zm1 1h1v1h-1zm1 1h1v1h-1zm1 1h1v1h-1zm1 1h1v1h-1zm1 1h1v1h-1zm1 1h1v1h-1zm1 1h1v1h-1zm1 1h1v1h-1zm1 1h1v1h-1zm1 1h1v1h-1zm1 1h1v1h-1zm1 1h1v1h-1zm1 1h1v1h-1zm1 1h1v1h-1zm1 1h1v1h-1zm1 1h1v1h-1zm1 1h1v1h-1zm1 1h1v1h-1zm1 1h1v1h-1zm1 1h1v1h-1zm1 1h1v1h-1zm1 1h1v1h-1zm1 1h1v1h-1zm1 1h1v1h-1zm1 1h1v1h-1zm1 1h1v1h-1zm1 1h1v1h-1zm1 1h1v1h-1zm1 1h1v1h-1zm1 1h1v1h-1zm1 1h1v1h-1zm1 1h1v1h-1zm1 1h1v1h-1zm1 1h1v1h-1zm1 1h1v1h-1zm1 1h1v1h-1zm1 1h1v1h-1zm1 1h1v1h-1zm1 1h1v1h-1zm1 1h1v1h-1zm1 1h1v1h-1zm1 1h1v1h-1zm1 1h1v1h-1zm1 1h1v1h-1zm1 1h1v1h-1zm1 1h1v1h-1zm1 1h1v1h-1zm1 1h1v1h-1zm1 1h1v1h-1zm1 1h1v1h-1zm1 1h1v1h-1zm1 1h1v1h-1zm1 1h1v1h-1zm1 1h1v1h-1zm1 1h1v1h-1zm1 1h1v1h-1zm1 1h1v1h-1zm1 1h1v1h-1zm1 1h1v1h-1zm1 1h1v1h-1zm1 1h1v1h-1zm1 1h1v1h-1zm1 1h1v1h-1zm1 1h1v1h-1zm1 1h1v1h-1zm1 1h1v1h-1zm1 1h1v1h-1zm1 1h1v1h-1zm1 1h1v1h-1zm1 1h1v1h-1zm1 1h1v1h-1zm1 1h1v1h-1zm1 1h1v1h-1zm1 1h1v1h-1zm1 1h1v1h-1zm1 1h1v1h-1zm1 1h1v1h-1zm1 1h1v1h-1zm1 1h1v1h-1zm1 1h1v1h-1zm1 1h1v1h-1zm1 1h1v1h-1zm1 1h1v1h-1zm1 1h1v1h-1zm1 1h1v1h-1zm1 1h1v1h-1zm1 1h1v1h-1zm1 1h1v1h-1zm1 1h1v1h-1zm1 1h1v1h-1zm1 1h1v1h-1zm1 1h1v1h-1zm1 1h1v1h-1zm1 1h1v1h-1zm1 1h1v1h-1zm1 1h1v1h-1zm1 1h1v1h-1zm1 1h1v1h-1zm1 1h1v1h-1zm1 1h1v1h-1zm1 1h1v1h-1zm1 1h1v1h-1zm1 1h1v1h-1zm1 1h1v1h-1zm1 1h1v1h-1zm1 1h1v1h-1zm1 1h1v1h-1zm1 1h1v1h-1zm1 1h1v1h-1zm1 1h1v1h-1zm1 1h1v1h-1zm1 1h1v1h-1zm1 1h1v1h-1zm1 1h1v1h-1zm1 1h1v1h-1zm1 1h1v1h-1zm1 1h1v1h-1zm1 1h1v1h-1zm1 1h1v1h-1zm1 1h1v1h-1zm1 1h1v1h-1zm1 1h1v1h-1zm1 1h1v1h-1zm1 1h1v1h-1zm1 1h1v1h-1zm1 1h1v1h-1zm1 1h1v1h-1zm1 1h1v1h-1zm1 1h1v1h-1zm1 1h1v1h-1zm1 1h1v1h-1zm1 1h1v1h-1zm1 1h1v1h-1zm1 1h1v1h-1zm1 1h1v1h-1zm1 1h1v1h-1zm1 1h1v1h-1zm1 1h1v1h-1zm1 1h1v1h-1zm1 1h1v1h-1zm1 1h1v1h-1zm1 1h1v1h-1zm1 1h1v1h-1zm1 1h1v1h-1zm1 1h1v1h-1zm1 1h1v1h-1zm1 1h1v1h-1zm1 1h1v1h-1zm1 1h1v1h-1zm1 1h1v1h-1zm1 1h1v1h-1zm1 1h1v1h-1zm1 1h1v1h-1zm1 1h1v1h-1zm1 1h1v1h-1zm1 1h1v1h-1zm1 1h1v1h-1zm1 1h1v1h-1zm1 1h1v1h-1zm1 1h1v1h-1zm1 1h1v1h-1zm1 1h1v1h-1zm1 1h1v1h-1zm1 1h1v1h-1zm1 1h1v1h-1zm1 1h1v1h-1zm1 1h1v1h-1zm1 1h1v1h-1zm1 1h1v1h-1zm1 1h1v1h-1zm1 1h1v1h-1zm1 1h1v1h-1zm1 1h1v1h-1zm1 1h1v1h-1zm1 1h1v1h-1zm1 1h1v1h-1zm1 1h1v1h-1zm1 1h1v1h-1zm1 1h1v1h-1zm1 1h1v1h-1zm1 1h1v1h-1zm1 1h1v1h-1zm1 1h1v1h-1zm1 1h1v1h-1zm1 1h1v1h-1zm1 1h1v1h-1zm1 1h1v1h-1zm1 1h1v1h-1zm1 1h1v1h-1zm1 1h1v1h-1zm1 1h1v1h-1zm1 1h1v1h-1zm1 1h1v1h-1zm1 1h1v1h-1zm1 1h1v1h-1zm1 1h1v1h-1zm1 1h1v1h-1zm1 1h1v1h-1zm1 1h1v1h-1zm1 1h1v1h-1zm1 1h1v1h-1zm1 1h1v1h-1zm1 1h1v1h-1zm1 1h1v1h-1zm1 1h1v1h-1zm1 1h1v1h-1zm1 1h1v1h-1zm1 1h1v1h-1zm1 1h1v1h-1zm1 1h1v1h-1zm1 1h1v1h-1zm1 1h1v1h-1zm1 1h1v1h-1zm1 1h1v1h-1zm1 1h1v1h-1zm1 1h1v1h-1zm1 1h1v1h-1zm1 1h1v1h-1zm1 1h1v1h-1zm1 1h1v1h-1zm1 1h1v1h-1zm1 1h1v1h-1zm1 1h1v1h-1zm1 1h1v1h-1zm1 1h1v1h-1zm1 1h1v1h-1zm1 1h1v1h-1zm1 1h1v1h-1zm1 1h1v1h-1zm1 1h1v1h-1zm1 1h1v1h-1zm1 1h1v1h-1zm1 1h1v1h-1zm1 1h1v1h-1zm1 1h1v1h-1zm1 1h1v1h-1zm1 1h1v1h-1zm1 1h1v1h-1zm1 1h1v1h-1zm1 1h1v1h-1zm1 1h1v1h-1zm1 1h1v1h-1zm1 1h1v1h-1zm1 1h1v1h-1zm1 1h1v1h-1zm1 1h1v1h-1zm1 1h1v1h-1zm1 1h1v1h-1zm1 1h1v1h-1zm1 1h1v1h-1zm1 1h1v1h-1zm1 1h1v1h-1zm1 1h1v1h-1zm1 1h1v1h-1zm1 1h1v1h-1zm1 1h1v1h-1zm1 1h1v1h-1zm1 1h1v1h-1zm1 1h1v1h-1zm1 1h1v1h-1zm1 1h1v1h-1zm1 1h1v1h-1zm1 1h1v1h-1zm1 1h1v1h-1zm1 1h1v1h-1zm1 1h1v1h-1zm1 1h1v1h-1zm1 1h1v1h-1zm1 1h1v1h-1zm1 1h1v1h-1zm1 1h1v1h-1zm1 1h1v1h-1zm1 1h1v1h-1zm1 1h1v1h-1zm1 1h1v1h-1zm1 1h1v1h-1zm1 1h1v1h-1zm1 1h1v1h-1zm1 1h1v1h-1zm1 1h1v1h-1zm1 1h1v1h-1zm1 1h1v1h-1zm1 1h1v1h-1zm1 1h1v1h-1zm1 1h1v1h-1zm1 1h1v1h-1zm1 1h1v1h-1zm1 1h1v1h-1zm1 1h1v1h-1zm1 1h1v1h-1zm1 1h1v1h-1zm1 1h1v1h-1zm1 1h1v1h-1zm1 1h1v1h-1zm1 1h1v1h-1zm1 1h1v1h-1zm1 1h1v1h-1zm1 1h1v1h-1zm1 1h1v1h-1zm1 1h1v1h-1zm1 1h1v1h-1zm1 1h1v1h-1zm1 1h1v1h-1zm1 1h1v1h-1zm1 1h1v1h-1zm1 1h1v1h-1zm1 1h1v1h-1zm1 1h1v1h-1zm1 1h1v1h-1zm1 1h1v1h-1zm1 1h1v1h-1zm1 1h1v1h-1zm1 1h1v1h-1zm1 1h1v1h-1zm1 1h1v1h-1zm1 1h1v1h-1zm1 1h1v1h-1zm1 1h1v1h-1zm1 1h1v1h-1zm1 1h1v1h-1zm1 1h1v1h-1zm1 1h1v1h-1zm1 1h1v1h-1zm1 1h1v1h-1zm1 1h1v1h-1zm1 1h1v1h-1zm1 1h1v1h-1zm1 1h1v1h-1zm1 1h1v1h-1zm1 1h1v1h-1zm1 1h1v1h-1zm1 1h1v1h-1zm1 1h1v1h-1zm1 1h1v1h-1zm1 1h1v1h-1zm1 1h1v1h-1zm1 1h1v1h-1zm1 1h1v1h-1zm1 1h1v1h-1zm1 1h1v1h-1zm1 1h1v1h-1zm1 1h1v1h-1zm1 1h1v1h-1zm1 1h1v1h-1zm1 1h1v1h-1zm1 1h1v1h-1zm1 1h1v1h-1zm1 1h1v1h-1zm1 1h1v1h-1zm1 1h1v1h-1zm1 1h1v1h-1zm1 1h1v1h-1zm1 1h1v1h-1zm1 1h1v1h-1zm1 1h1v1h-1zm1 1h1v1h-1zm1 1h1v1h-1zm1 1h1v1h-1zm1 1h1v1h-1zm1 1h1v1h-1zm1 1h1v1h-1zm1 1h1v1h-1zm1 1h1v1h-1zm1 1h1v1h-1zm1 1h1v1h-1zm1 1h1v1h-1zm1 1h1v1h-1zm1 1h1v1h-1zm1 1h1v1h-1zm1 1h1v1h-1zm1 1h1v1h-1zm1 1h1v1h-1zm1 1h1v1h-1zm1 1h1v1h-1zm1 1"/>
</g>
<rect x="1240.0" y="112.0" width="1352" height="1352" fill="none" stroke="#262626" stroke-width="10"/>
<rect x="1240.0" y="1532.0" width="1352" height="1352" fill="none" stroke="#262626" stroke-width="10"/>
<rect x="2646.0" y="112.0" width="96" height="2772" fill="url(#cb)" stroke="#262626" stroke-width="10"/>
<rect x="2742" y="107" width="50" height="10" fill="#262626"/>
<rect x="2742" y="1493" width="50" height="10" fill="#262626"/>
<rect x="2742" y="2879" width="50" height="10" fill="#262626"/>
<text class="tk" x="2821" y="163.6">1.4</text>
<text class="tk" x="2821" y="1550.2">1</text>
<text class="tk" x="2821" y="2937" style="letter-spacing:-0.4px">0.71</text>
<text class="yl" x="1206" y="821.5">Mcph1_KO_control</text>
<text class="yl" x="1206" y="2241.5">Rad21_control</text>
<text class="sc" x="1307" y="256">1.11</text>
<text class="sc" x="1307" y="1675.6">1.13</text>
</svg></body></html>
